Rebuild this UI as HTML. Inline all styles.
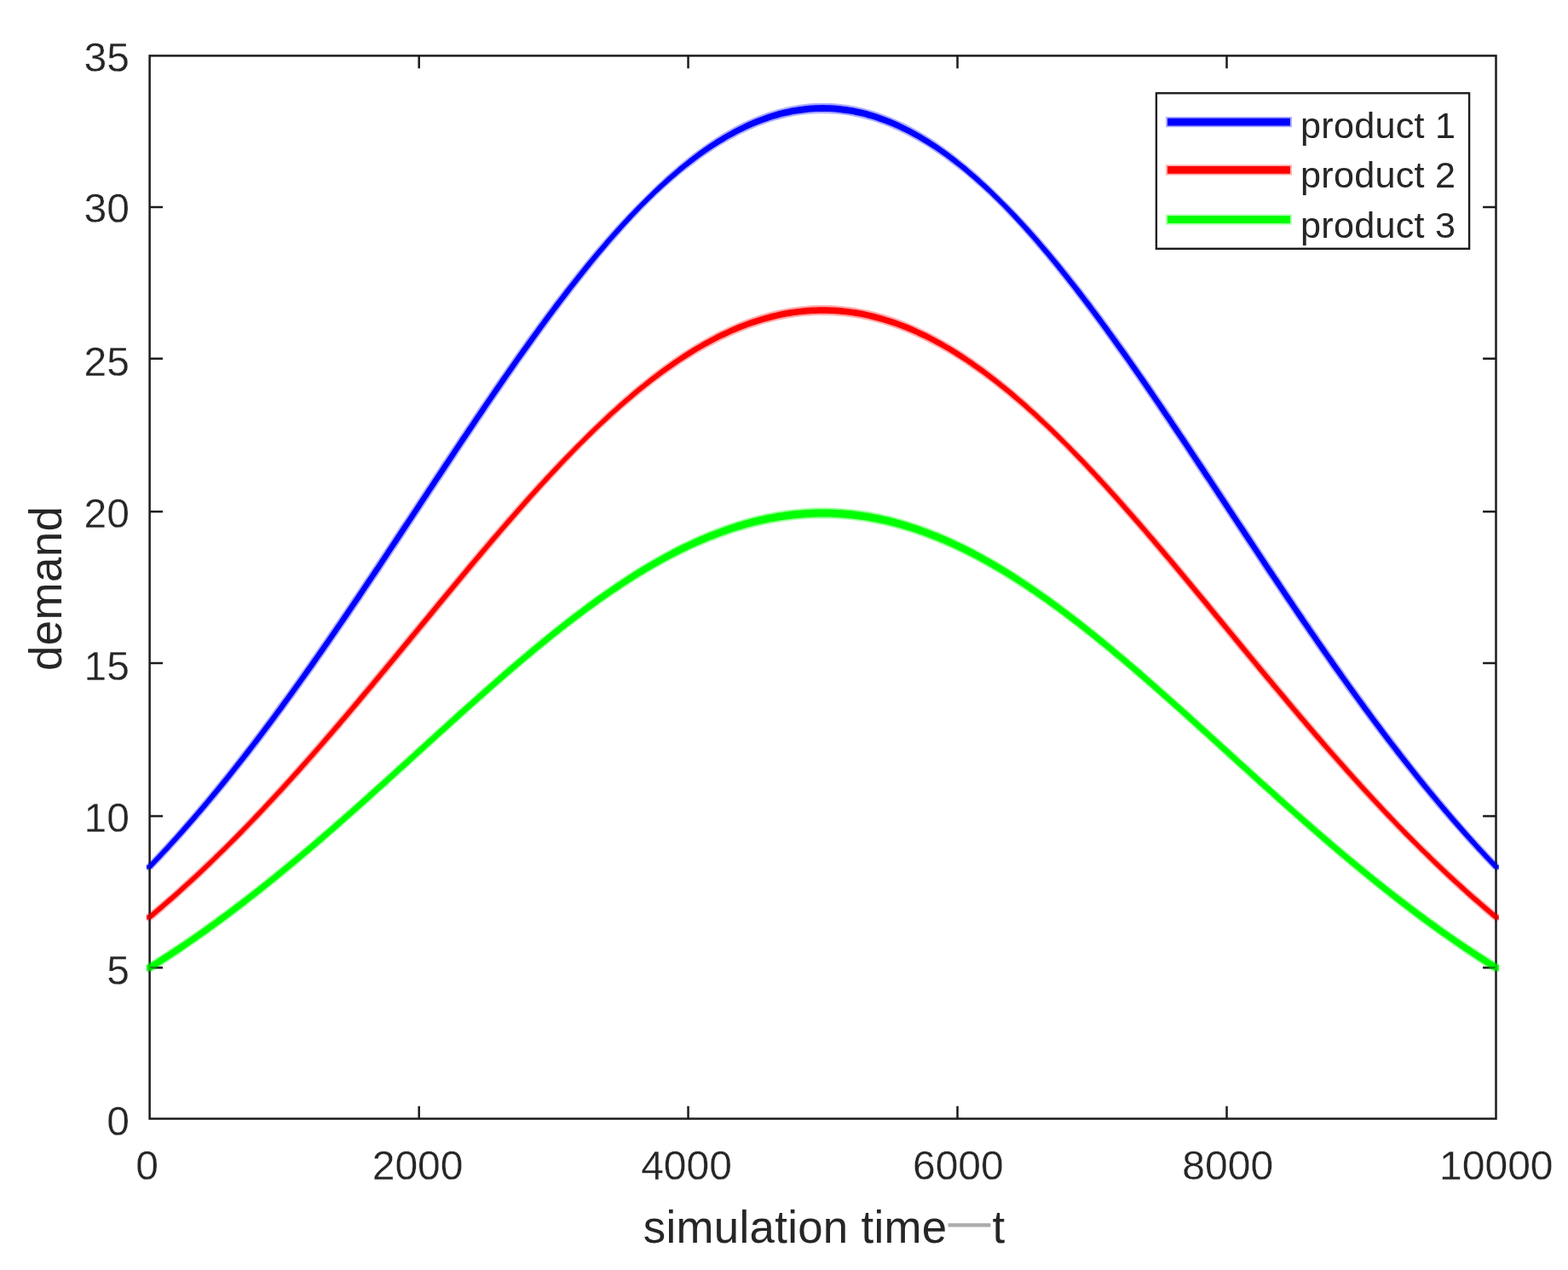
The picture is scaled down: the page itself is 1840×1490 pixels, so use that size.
<!DOCTYPE html>
<html lang="en"><head><meta charset="utf-8"><title>demand vs simulation time</title>
<style>
html,body{margin:0;padding:0;background:#fff;}
body{width:1840px;height:1490px;overflow:hidden;}
svg{display:block;}
text{font-family:"Liberation Sans",sans-serif;fill:#262626;stroke:#fff;stroke-width:0.3px;stroke-linejoin:round;}
.t{font-size:48px;}
.l{font-size:52.8px;stroke:none;}
.g{font-size:43.2px;letter-spacing:0.25px;stroke:none;}
.ax{stroke:#1c1c1c;stroke-width:2.5;fill:none;}
.c{fill:none;stroke-linejoin:round;stroke-linecap:butt;}
</style></head><body>
<svg width="1840" height="1490" viewBox="0 0 1840 1490">
<rect x="0" y="0" width="1840" height="1490" fill="#ffffff"/>
<g id="axes">
<rect class="ax" x="175.6" y="65.4" width="1579.9" height="1247.1"/>
<path class="ax" d="M491.70 1312.50v-14.80M491.70 65.40v14.80M807.56 1312.50v-14.80M807.56 65.40v14.80M1123.54 1312.50v-14.80M1123.54 65.40v14.80M1439.52 1312.50v-14.80M1439.52 65.40v14.80M175.60 1135.30h15.40M1755.50 1135.30h-15.40M175.60 957.60h15.40M1755.50 957.60h-15.40M175.60 777.90h15.40M1755.50 777.90h-15.40M175.60 600.30h15.40M1755.50 600.30h-15.40M175.60 420.70h15.40M1755.50 420.70h-15.40M175.60 243.10h15.40M1755.50 243.10h-15.40"/>
</g>
<clipPath id="cl"><rect x="172" y="0" width="1586.7" height="1490"/></clipPath>
<g id="curves" clip-path="url(#cl)">
<polygon points="161.6,1010.8 172.4,1013.9 176.4,1009.7 180.3,1005.6 184.2,1001.4 188.1,997.1 192.0,992.9 196.0,988.6 199.9,984.2 203.8,979.9 207.7,975.5 211.7,971.0 215.6,966.5 219.5,962.0 223.5,957.5 227.4,952.9 231.3,948.3 235.2,943.6 239.2,938.9 243.1,934.2 247.0,929.4 251.0,924.6 254.9,919.8 258.8,915.0 262.7,910.1 266.7,905.2 270.6,900.2 274.5,895.2 278.5,890.2 282.4,885.1 286.3,880.1 290.3,875.0 294.2,869.8 298.1,864.6 302.1,859.4 306.0,854.2 309.9,849.0 313.9,843.7 317.8,838.4 321.7,833.0 325.7,827.6 329.6,822.2 333.5,816.8 337.5,811.4 341.4,805.9 345.4,800.4 349.3,794.9 353.2,789.3 357.2,783.7 361.1,778.2 365.0,772.5 369.0,766.9 372.9,761.2 376.9,755.6 380.8,749.9 384.7,744.1 388.7,738.4 392.6,732.6 396.6,726.9 400.5,721.1 404.5,715.3 408.4,709.4 412.3,703.6 416.3,697.7 420.2,691.9 424.2,686.0 428.1,680.1 432.1,674.2 436.0,668.3 440.0,662.3 443.9,656.4 447.8,650.5 451.8,644.5 455.7,638.5 459.7,632.6 463.6,626.6 467.6,620.6 471.5,614.6 475.5,608.7 479.4,602.7 483.4,596.7 487.3,590.7 491.3,584.7 495.2,578.7 499.2,572.7 503.1,566.7 507.1,560.7 511.0,554.8 515.0,548.8 518.9,542.8 522.9,536.9 526.8,530.9 530.8,524.9 534.8,519.0 538.7,513.1 542.7,507.2 546.6,501.3 550.6,495.4 554.5,489.5 558.5,483.6 562.4,477.8 566.4,472.0 570.4,466.2 574.3,460.4 578.3,454.6 582.2,448.8 586.2,443.1 590.2,437.4 594.1,431.7 598.1,426.0 602.0,420.4 606.0,414.8 610.0,409.2 613.9,403.7 617.9,398.1 621.9,392.6 625.8,387.2 629.8,381.7 633.8,376.3 637.7,371.0 641.7,365.6 645.7,360.3 649.6,355.1 653.6,349.8 657.6,344.7 661.5,339.5 665.5,334.4 669.5,329.3 673.5,324.3 677.4,319.3 681.4,314.4 685.4,309.5 689.4,304.7 693.3,299.9 697.3,295.1 701.3,290.4 705.3,285.8 709.3,281.2 713.3,276.6 717.2,272.1 721.2,267.7 725.2,263.3 729.2,259.0 733.2,254.7 737.2,250.5 741.2,246.3 745.2,242.2 749.2,238.1 753.2,234.2 757.1,230.2 761.1,226.3 765.0,222.4 769.0,218.6 772.9,214.9 776.9,211.2 780.8,207.6 784.8,204.1 788.7,200.6 792.7,197.2 796.7,193.8 800.6,190.6 804.6,187.3 808.6,184.2 812.5,181.1 816.5,178.1 820.5,175.2 824.4,172.3 828.4,169.5 832.4,166.8 836.4,164.1 840.4,161.6 844.4,159.1 848.3,156.6 852.3,154.3 856.3,152.0 860.3,149.8 864.3,147.6 868.3,145.6 872.4,143.6 876.4,141.7 880.4,139.9 884.4,138.2 888.4,136.5 892.5,134.9 896.5,133.4 900.5,132.0 904.6,130.7 908.6,129.5 912.7,128.3 916.7,127.2 920.8,126.2 924.8,125.3 928.9,124.5 933.0,123.7 937.0,123.1 941.1,122.5 945.2,122.0 949.2,121.6 953.3,121.3 957.4,121.1 961.5,121.0 965.6,120.9 969.6,121.0 973.7,121.1 977.8,121.3 981.9,121.6 985.9,122.0 990.0,122.5 994.1,123.1 998.1,123.7 1002.2,124.5 1006.3,125.3 1010.3,126.2 1014.4,127.2 1018.4,128.3 1022.5,129.5 1026.5,130.7 1030.6,132.0 1034.6,133.4 1038.6,134.9 1042.7,136.5 1046.7,138.2 1050.7,139.9 1054.7,141.7 1058.7,143.6 1062.8,145.6 1066.8,147.6 1070.8,149.8 1074.8,152.0 1078.8,154.3 1082.8,156.6 1086.7,159.1 1090.7,161.6 1094.7,164.1 1098.7,166.8 1102.7,169.5 1106.7,172.3 1110.6,175.2 1114.6,178.1 1118.6,181.1 1122.5,184.2 1126.5,187.3 1130.5,190.6 1134.4,193.8 1138.4,197.2 1142.4,200.6 1146.3,204.1 1150.3,207.6 1154.2,211.2 1158.2,214.9 1162.1,218.6 1166.1,222.4 1170.0,226.3 1174.0,230.2 1177.9,234.2 1181.9,238.1 1185.9,242.2 1189.9,246.3 1193.9,250.5 1197.9,254.7 1201.9,259.0 1205.9,263.3 1209.9,267.7 1213.9,272.1 1217.8,276.6 1221.8,281.2 1225.8,285.8 1229.8,290.4 1233.8,295.1 1237.8,299.9 1241.7,304.7 1245.7,309.5 1249.7,314.4 1253.7,319.3 1257.6,324.3 1261.6,329.3 1265.6,334.4 1269.6,339.5 1273.5,344.7 1277.5,349.8 1281.5,355.1 1285.4,360.3 1289.4,365.6 1293.4,371.0 1297.3,376.3 1301.3,381.7 1305.3,387.2 1309.2,392.6 1313.2,398.1 1317.2,403.7 1321.1,409.2 1325.1,414.8 1329.1,420.4 1333.0,426.0 1337.0,431.7 1340.9,437.4 1344.9,443.1 1348.9,448.8 1352.8,454.6 1356.8,460.4 1360.7,466.2 1364.7,472.0 1368.7,477.8 1372.6,483.6 1376.6,489.5 1380.5,495.4 1384.5,501.3 1388.4,507.2 1392.4,513.1 1396.3,519.0 1400.3,524.9 1404.3,530.9 1408.2,536.9 1412.2,542.8 1416.1,548.8 1420.1,554.8 1424.0,560.7 1428.0,566.7 1431.9,572.7 1435.9,578.7 1439.8,584.7 1443.8,590.7 1447.7,596.7 1451.7,602.7 1455.6,608.7 1459.6,614.6 1463.5,620.6 1467.5,626.6 1471.4,632.6 1475.4,638.5 1479.3,644.5 1483.3,650.5 1487.2,656.4 1491.1,662.3 1495.1,668.3 1499.0,674.2 1503.0,680.1 1506.9,686.0 1510.9,691.9 1514.8,697.7 1518.8,703.6 1522.7,709.4 1526.6,715.3 1530.6,721.1 1534.5,726.9 1538.5,732.6 1542.4,738.4 1546.4,744.1 1550.3,749.9 1554.2,755.6 1558.2,761.2 1562.1,766.9 1566.1,772.5 1570.0,778.2 1573.9,783.7 1577.9,789.3 1581.8,794.9 1585.7,800.4 1589.7,805.9 1593.6,811.4 1597.6,816.8 1601.5,822.2 1605.4,827.6 1609.4,833.0 1613.3,838.4 1617.2,843.7 1621.2,849.0 1625.1,854.2 1629.0,859.4 1633.0,864.6 1636.9,869.8 1640.8,875.0 1644.8,880.1 1648.7,885.1 1652.6,890.2 1656.6,895.2 1660.5,900.2 1664.4,905.2 1668.4,910.1 1672.3,915.0 1676.2,919.8 1680.1,924.6 1684.1,929.4 1688.0,934.2 1691.9,938.9 1695.9,943.6 1699.8,948.3 1703.7,952.9 1707.6,957.5 1711.6,962.0 1715.5,966.5 1719.4,971.0 1723.4,975.5 1727.3,979.9 1731.2,984.2 1735.1,988.6 1739.1,992.9 1743.0,997.1 1746.9,1001.4 1750.8,1005.6 1754.7,1009.7 1758.7,1013.9 1769.5,1010.8 1769.5,1023.0 1752.3,1020.0 1748.4,1015.8 1744.4,1011.7 1740.4,1007.5 1736.4,1003.2 1732.5,999.0 1728.5,994.7 1724.5,990.3 1720.5,985.9 1716.6,981.5 1712.6,977.1 1708.6,972.6 1704.6,968.1 1700.7,963.5 1696.7,958.9 1692.7,954.3 1688.7,949.6 1684.8,944.9 1680.8,940.2 1676.8,935.4 1672.9,930.6 1668.9,925.8 1664.9,920.9 1661.0,916.0 1657.0,911.1 1653.0,906.1 1649.0,901.1 1645.1,896.1 1641.1,891.1 1637.1,886.0 1633.2,880.9 1629.2,875.7 1625.2,870.5 1621.3,865.3 1617.3,860.1 1613.3,854.8 1609.4,849.5 1605.4,844.2 1601.5,838.8 1597.5,833.5 1593.5,828.0 1589.6,822.6 1585.6,817.2 1581.6,811.7 1577.7,806.2 1573.7,800.6 1569.8,795.1 1565.8,789.5 1561.8,783.9 1557.9,778.3 1553.9,772.6 1550.0,767.0 1546.0,761.3 1542.0,755.6 1538.1,749.8 1534.1,744.1 1530.2,738.3 1526.2,732.5 1522.2,726.7 1518.3,720.9 1514.3,715.1 1510.4,709.2 1506.4,703.4 1502.5,697.5 1498.5,691.6 1494.6,685.7 1490.6,679.8 1486.6,673.9 1482.7,668.0 1478.7,662.0 1474.8,656.1 1470.8,650.1 1466.9,644.2 1462.9,638.2 1459.0,632.2 1455.0,626.2 1451.1,620.2 1447.1,614.3 1443.2,608.3 1439.2,602.3 1435.3,596.3 1431.3,590.3 1427.4,584.3 1423.4,578.3 1419.5,572.3 1415.5,566.3 1411.6,560.4 1407.6,554.4 1403.7,548.4 1399.7,542.5 1395.8,536.5 1391.8,530.6 1387.9,524.6 1384.0,518.7 1380.0,512.8 1376.1,506.9 1372.1,501.0 1368.2,495.2 1364.2,489.3 1360.3,483.5 1356.3,477.6 1352.4,471.8 1348.5,466.0 1344.5,460.3 1340.6,454.5 1336.6,448.8 1332.7,443.1 1328.8,437.4 1324.8,431.8 1320.9,426.1 1317.0,420.5 1313.0,415.0 1309.1,409.4 1305.2,403.9 1301.2,398.4 1297.3,393.0 1293.3,387.5 1289.4,382.2 1285.5,376.8 1281.6,371.5 1277.6,366.2 1273.7,360.9 1269.8,355.7 1265.8,350.6 1261.9,345.4 1258.0,340.3 1254.1,335.3 1250.1,330.3 1246.2,325.3 1242.3,320.4 1238.4,315.5 1234.4,310.7 1230.5,305.9 1226.6,301.1 1222.7,296.4 1218.8,291.8 1214.8,287.2 1210.9,282.7 1207.0,278.2 1203.1,273.8 1199.2,269.4 1195.3,265.0 1191.4,260.8 1187.5,256.6 1183.5,252.4 1179.6,248.3 1175.7,244.2 1171.8,240.3 1167.9,236.4 1163.9,232.6 1160.0,228.8 1156.0,225.1 1152.1,221.5 1148.2,217.9 1144.2,214.4 1140.3,211.0 1136.3,207.6 1132.4,204.3 1128.4,201.1 1124.5,198.0 1120.6,194.9 1116.6,191.9 1112.7,188.9 1108.8,186.0 1104.9,183.2 1100.9,180.5 1097.0,177.9 1093.1,175.3 1089.2,172.8 1085.3,170.3 1081.3,168.0 1077.4,165.7 1073.5,163.5 1069.6,161.4 1065.7,159.3 1061.8,157.3 1057.9,155.4 1054.0,153.6 1050.2,151.9 1046.3,150.2 1042.4,148.6 1038.5,147.1 1034.7,145.7 1030.8,144.3 1026.9,143.0 1023.1,141.8 1019.2,140.7 1015.4,139.7 1011.5,138.7 1007.7,137.8 1003.8,137.0 1000.0,136.3 996.2,135.6 992.3,135.0 988.5,134.5 984.7,134.1 980.8,133.8 977.0,133.5 973.2,133.3 969.4,133.2 965.6,133.1 961.7,133.2 957.9,133.3 954.1,133.5 950.3,133.8 946.4,134.1 942.6,134.5 938.8,135.0 934.9,135.6 931.1,136.3 927.3,137.0 923.4,137.8 919.6,138.7 915.7,139.7 911.9,140.7 908.0,141.8 904.2,143.0 900.3,144.3 896.4,145.7 892.6,147.1 888.7,148.6 884.8,150.2 880.9,151.9 877.1,153.6 873.2,155.4 869.3,157.3 865.4,159.3 861.5,161.4 857.6,163.5 853.7,165.7 849.8,168.0 845.8,170.3 841.9,172.8 838.0,175.3 834.1,177.9 830.2,180.5 826.2,183.2 822.3,186.0 818.4,188.9 814.5,191.9 810.5,194.9 806.6,198.0 802.7,201.1 798.7,204.3 794.8,207.6 790.8,211.0 786.9,214.4 782.9,217.9 779.0,221.5 775.1,225.1 771.1,228.8 767.2,232.6 763.2,236.4 759.3,240.3 755.4,244.2 751.5,248.3 747.6,252.4 743.6,256.6 739.7,260.8 735.8,265.0 731.9,269.4 728.0,273.8 724.1,278.2 720.2,282.7 716.3,287.2 712.3,291.8 708.4,296.4 704.5,301.1 700.6,305.9 696.7,310.7 692.7,315.5 688.8,320.4 684.9,325.3 681.0,330.3 677.0,335.3 673.1,340.3 669.2,345.4 665.3,350.6 661.3,355.7 657.4,360.9 653.5,366.2 649.5,371.5 645.6,376.8 641.7,382.2 637.8,387.5 633.8,393.0 629.9,398.4 625.9,403.9 622.0,409.4 618.1,415.0 614.1,420.5 610.2,426.1 606.3,431.8 602.3,437.4 598.4,443.1 594.5,448.8 590.5,454.5 586.6,460.3 582.6,466.0 578.7,471.8 574.8,477.6 570.8,483.5 566.9,489.3 562.9,495.2 559.0,501.0 555.0,506.9 551.1,512.8 547.1,518.7 543.2,524.6 539.3,530.6 535.3,536.5 531.4,542.5 527.4,548.4 523.5,554.4 519.5,560.4 515.6,566.3 511.6,572.3 507.7,578.3 503.7,584.3 499.8,590.3 495.8,596.3 491.9,602.3 487.9,608.3 484.0,614.3 480.0,620.2 476.1,626.2 472.1,632.2 468.2,638.2 464.2,644.2 460.3,650.1 456.3,656.1 452.4,662.0 448.4,668.0 444.5,673.9 440.5,679.8 436.5,685.7 432.6,691.6 428.6,697.5 424.7,703.4 420.7,709.2 416.8,715.1 412.8,720.9 408.9,726.7 404.9,732.5 400.9,738.3 397.0,744.1 393.0,749.8 389.1,755.6 385.1,761.3 381.1,767.0 377.2,772.6 373.2,778.3 369.3,783.9 365.3,789.5 361.3,795.1 357.4,800.6 353.4,806.2 349.5,811.7 345.5,817.2 341.5,822.6 337.6,828.0 333.6,833.5 329.6,838.8 325.7,844.2 321.7,849.5 317.8,854.8 313.8,860.1 309.8,865.3 305.9,870.5 301.9,875.7 297.9,880.9 294.0,886.0 290.0,891.1 286.0,896.1 282.1,901.1 278.1,906.1 274.1,911.1 270.1,916.0 266.2,920.9 262.2,925.8 258.2,930.6 254.3,935.4 250.3,940.2 246.3,944.9 242.4,949.6 238.4,954.3 234.4,958.9 230.4,963.5 226.5,968.1 222.5,972.6 218.5,977.1 214.5,981.5 210.6,985.9 206.6,990.3 202.6,994.7 198.6,999.0 194.7,1003.2 190.7,1007.5 186.7,1011.7 182.7,1015.8 178.8,1020.0 161.6,1023.0" fill="#0000ff" fill-opacity="0.33"/>
<polygon id="c1" points="161.6,1013.0 173.6,1015.0 177.5,1010.8 181.4,1006.7 185.4,1002.5 189.3,998.2 193.2,994.0 197.2,989.7 201.1,985.3 205.0,981.0 209.0,976.5 212.9,972.1 216.8,967.6 220.8,963.1 224.7,958.6 228.6,954.0 232.6,949.3 236.5,944.7 240.5,940.0 244.4,935.3 248.3,930.5 252.3,925.7 256.2,920.9 260.1,916.0 264.1,911.2 268.0,906.2 272.0,901.3 275.9,896.3 279.8,891.3 283.8,886.2 287.7,881.1 291.6,876.0 295.6,870.9 299.5,865.7 303.5,860.5 307.4,855.3 311.3,850.0 315.3,844.7 319.2,839.4 323.2,834.1 327.1,828.7 331.0,823.3 335.0,817.9 338.9,812.4 342.9,806.9 346.8,801.4 350.8,795.9 354.7,790.4 358.6,784.8 362.6,779.2 366.5,773.6 370.5,767.9 374.4,762.3 378.4,756.6 382.3,750.9 386.2,745.2 390.2,739.4 394.1,733.7 398.1,727.9 402.0,722.1 406.0,716.3 409.9,710.5 413.9,704.6 417.8,698.8 421.7,692.9 425.7,687.0 429.6,681.1 433.6,675.2 437.5,669.3 441.5,663.4 445.4,657.4 449.4,651.5 453.3,645.5 457.3,639.6 461.2,633.6 465.2,627.6 469.1,621.6 473.1,615.6 477.0,609.7 481.0,603.7 484.9,597.7 488.9,591.7 492.8,585.7 496.8,579.7 500.7,573.7 504.7,567.7 508.6,561.7 512.6,555.8 516.5,549.8 520.5,543.8 524.4,537.9 528.4,531.9 532.3,526.0 536.3,520.0 540.2,514.1 544.2,508.2 548.1,502.3 552.1,496.4 556.0,490.5 560.0,484.7 564.0,478.8 567.9,473.0 571.9,467.2 575.8,461.4 579.8,455.6 583.7,449.9 587.7,444.1 591.6,438.4 595.6,432.7 599.6,427.1 603.5,421.4 607.5,415.8 611.4,410.2 615.4,404.7 619.3,399.2 623.3,393.7 627.3,388.2 631.2,382.8 635.2,377.4 639.1,372.0 643.1,366.7 647.1,361.4 651.0,356.1 655.0,350.9 659.0,345.7 662.9,340.6 666.9,335.5 670.9,330.4 674.8,325.4 678.8,320.4 682.8,315.5 686.7,310.6 690.7,305.8 694.7,301.0 698.6,296.2 702.6,291.5 706.6,286.9 710.5,282.3 714.5,277.7 718.5,273.2 722.4,268.8 726.4,264.4 730.4,260.1 734.4,255.8 738.3,251.6 742.3,247.4 746.3,243.3 750.3,239.2 754.3,235.3 758.2,231.3 762.2,227.4 766.1,223.6 770.1,219.8 774.0,216.1 778.0,212.4 781.9,208.8 785.9,205.3 789.8,201.9 793.8,198.5 797.7,195.1 801.7,191.9 805.7,188.7 809.6,185.6 813.6,182.5 817.5,179.5 821.5,176.6 825.5,173.8 829.4,171.0 833.4,168.3 837.4,165.7 841.4,163.1 845.3,160.7 849.3,158.3 853.3,155.9 857.3,153.7 861.2,151.5 865.2,149.4 869.2,147.4 873.2,145.4 877.2,143.6 881.2,141.8 885.2,140.1 889.2,138.4 893.2,136.9 897.2,135.4 901.2,134.0 905.2,132.7 909.2,131.5 913.2,130.3 917.2,129.3 921.3,128.3 925.3,127.4 929.3,126.6 933.3,125.9 937.3,125.2 941.4,124.7 945.4,124.2 949.4,123.8 953.5,123.5 957.5,123.3 961.5,123.2 965.6,123.1 969.6,123.2 973.6,123.3 977.6,123.5 981.7,123.8 985.7,124.2 989.7,124.7 993.8,125.2 997.8,125.9 1001.8,126.6 1005.8,127.4 1009.8,128.3 1013.9,129.3 1017.9,130.3 1021.9,131.5 1025.9,132.7 1029.9,134.0 1033.9,135.4 1037.9,136.9 1041.9,138.4 1045.9,140.1 1049.9,141.8 1053.9,143.6 1057.9,145.4 1061.9,147.4 1065.9,149.4 1069.9,151.5 1073.8,153.7 1077.8,155.9 1081.8,158.3 1085.8,160.7 1089.7,163.1 1093.7,165.7 1097.7,168.3 1101.7,171.0 1105.6,173.8 1109.6,176.6 1113.6,179.5 1117.5,182.5 1121.5,185.6 1125.4,188.7 1129.4,191.9 1133.4,195.1 1137.3,198.5 1141.3,201.9 1145.2,205.3 1149.2,208.8 1153.1,212.4 1157.1,216.1 1161.0,219.8 1165.0,223.6 1168.9,227.4 1172.9,231.3 1176.8,235.3 1180.8,239.2 1184.8,243.3 1188.8,247.4 1192.8,251.6 1196.7,255.8 1200.7,260.1 1204.7,264.4 1208.7,268.8 1212.6,273.2 1216.6,277.7 1220.6,282.3 1224.5,286.9 1228.5,291.5 1232.5,296.2 1236.4,301.0 1240.4,305.8 1244.4,310.6 1248.3,315.5 1252.3,320.4 1256.3,325.4 1260.2,330.4 1264.2,335.5 1268.2,340.6 1272.1,345.7 1276.1,350.9 1280.1,356.1 1284.0,361.4 1288.0,366.7 1292.0,372.0 1295.9,377.4 1299.9,382.8 1303.8,388.2 1307.8,393.7 1311.8,399.2 1315.7,404.7 1319.7,410.2 1323.6,415.8 1327.6,421.4 1331.5,427.1 1335.5,432.7 1339.5,438.4 1343.4,444.1 1347.4,449.9 1351.3,455.6 1355.3,461.4 1359.2,467.2 1363.2,473.0 1367.1,478.8 1371.1,484.7 1375.1,490.5 1379.0,496.4 1383.0,502.3 1386.9,508.2 1390.9,514.1 1394.8,520.0 1398.8,526.0 1402.7,531.9 1406.7,537.9 1410.6,543.8 1414.6,549.8 1418.5,555.8 1422.5,561.7 1426.4,567.7 1430.4,573.7 1434.3,579.7 1438.3,585.7 1442.2,591.7 1446.2,597.7 1450.1,603.7 1454.1,609.7 1458.0,615.6 1462.0,621.6 1465.9,627.6 1469.9,633.6 1473.8,639.6 1477.8,645.5 1481.7,651.5 1485.7,657.4 1489.6,663.4 1493.6,669.3 1497.5,675.2 1501.5,681.1 1505.4,687.0 1509.4,692.9 1513.3,698.8 1517.2,704.6 1521.2,710.5 1525.1,716.3 1529.1,722.1 1533.0,727.9 1537.0,733.7 1540.9,739.4 1544.9,745.2 1548.8,750.9 1552.7,756.6 1556.7,762.3 1560.6,767.9 1564.6,773.6 1568.5,779.2 1572.5,784.8 1576.4,790.4 1580.3,795.9 1584.3,801.4 1588.2,806.9 1592.2,812.4 1596.1,817.9 1600.1,823.3 1604.0,828.7 1607.9,834.1 1611.9,839.4 1615.8,844.7 1619.8,850.0 1623.7,855.3 1627.6,860.5 1631.6,865.7 1635.5,870.9 1639.5,876.0 1643.4,881.1 1647.3,886.2 1651.3,891.3 1655.2,896.3 1659.1,901.3 1663.1,906.2 1667.0,911.2 1671.0,916.0 1674.9,920.9 1678.8,925.7 1682.8,930.5 1686.7,935.3 1690.6,940.0 1694.6,944.7 1698.5,949.3 1702.5,954.0 1706.4,958.6 1710.3,963.1 1714.3,967.6 1718.2,972.1 1722.1,976.5 1726.1,981.0 1730.0,985.3 1733.9,989.7 1737.9,994.0 1741.8,998.2 1745.7,1002.5 1749.7,1006.7 1753.6,1010.8 1757.5,1015.0 1769.5,1013.0 1769.5,1020.8 1753.5,1018.9 1749.5,1014.7 1745.5,1010.6 1741.6,1006.4 1737.6,1002.1 1733.6,997.9 1729.7,993.6 1725.7,989.2 1721.7,984.8 1717.8,980.4 1713.8,976.0 1709.8,971.5 1705.9,967.0 1701.9,962.4 1698.0,957.8 1694.0,953.2 1690.0,948.5 1686.1,943.8 1682.1,939.1 1678.1,934.3 1674.2,929.6 1670.2,924.7 1666.3,919.9 1662.3,915.0 1658.3,910.0 1654.4,905.1 1650.4,900.1 1646.4,895.1 1642.5,890.0 1638.5,884.9 1634.6,879.8 1630.6,874.6 1626.6,869.5 1622.7,864.3 1618.7,859.0 1614.8,853.8 1610.8,848.5 1606.8,843.1 1602.9,837.8 1598.9,832.4 1595.0,827.0 1591.0,821.6 1587.0,816.1 1583.1,810.6 1579.1,805.1 1575.2,799.6 1571.2,794.0 1567.3,788.5 1563.3,782.9 1559.3,777.2 1555.4,771.6 1551.4,765.9 1547.5,760.2 1543.5,754.5 1539.6,748.8 1535.6,743.1 1531.7,737.3 1527.7,731.5 1523.7,725.7 1519.8,719.9 1515.8,714.1 1511.9,708.2 1507.9,702.4 1504.0,696.5 1500.0,690.6 1496.1,684.7 1492.1,678.8 1488.2,672.9 1484.2,667.0 1480.3,661.0 1476.3,655.1 1472.4,649.1 1468.4,643.1 1464.5,637.2 1460.5,631.2 1456.6,625.2 1452.6,619.2 1448.7,613.2 1444.7,607.3 1440.8,601.3 1436.8,595.3 1432.9,589.3 1428.9,583.3 1425.0,577.3 1421.0,571.3 1417.1,565.3 1413.1,559.4 1409.2,553.4 1405.2,547.4 1401.3,541.5 1397.3,535.5 1393.4,529.6 1389.4,523.6 1385.5,517.7 1381.5,511.8 1377.6,505.9 1373.6,500.0 1369.7,494.1 1365.7,488.3 1361.8,482.4 1357.9,476.6 1353.9,470.8 1350.0,465.0 1346.0,459.2 1342.1,453.5 1338.1,447.8 1334.2,442.1 1330.3,436.4 1326.3,430.7 1322.4,425.1 1318.4,419.5 1314.5,413.9 1310.5,408.4 1306.6,402.9 1302.7,397.4 1298.7,391.9 1294.8,386.5 1290.8,381.1 1286.9,375.7 1283.0,370.4 1279.0,365.1 1275.1,359.9 1271.2,354.7 1267.2,349.5 1263.3,344.4 1259.4,339.3 1255.4,334.2 1251.5,329.2 1247.5,324.2 1243.6,319.3 1239.7,314.4 1235.8,309.6 1231.8,304.8 1227.9,300.1 1224.0,295.4 1220.0,290.7 1216.1,286.1 1212.2,281.6 1208.2,277.1 1204.3,272.7 1200.4,268.3 1196.5,263.9 1192.5,259.7 1188.6,255.5 1184.7,251.3 1180.8,247.2 1176.9,243.1 1172.9,239.2 1169.0,235.3 1165.0,231.4 1161.1,227.6 1157.1,223.9 1153.2,220.3 1149.2,216.7 1145.3,213.2 1141.4,209.7 1137.4,206.4 1133.5,203.0 1129.5,199.8 1125.6,196.6 1121.6,193.5 1117.7,190.5 1113.8,187.5 1109.8,184.6 1105.9,181.8 1102.0,179.0 1098.0,176.3 1094.1,173.7 1090.2,171.2 1086.2,168.8 1082.3,166.4 1078.4,164.1 1074.5,161.8 1070.5,159.7 1066.6,157.6 1062.7,155.6 1058.8,153.7 1054.9,151.8 1051.0,150.0 1047.1,148.3 1043.2,146.7 1039.3,145.2 1035.4,143.7 1031.5,142.4 1027.6,141.0 1023.7,139.8 1019.8,138.7 1015.9,137.6 1012.0,136.6 1008.2,135.7 1004.3,134.9 1000.4,134.1 996.5,133.5 992.6,132.9 988.8,132.4 984.9,131.9 981.0,131.6 977.2,131.3 973.3,131.1 969.4,131.0 965.6,130.9 961.7,131.0 957.8,131.1 953.9,131.3 950.1,131.6 946.2,131.9 942.3,132.4 938.5,132.9 934.6,133.5 930.7,134.1 926.8,134.9 922.9,135.7 919.1,136.6 915.2,137.6 911.3,138.7 907.4,139.8 903.5,141.0 899.6,142.4 895.7,143.7 891.8,145.2 887.9,146.7 884.0,148.3 880.1,150.0 876.2,151.8 872.3,153.7 868.4,155.6 864.5,157.6 860.6,159.7 856.6,161.8 852.7,164.1 848.8,166.4 844.9,168.8 840.9,171.2 837.0,173.7 833.1,176.3 829.1,179.0 825.2,181.8 821.3,184.6 817.3,187.5 813.4,190.5 809.5,193.5 805.5,196.6 801.6,199.8 797.6,203.0 793.7,206.4 789.7,209.7 785.8,213.2 781.9,216.7 777.9,220.3 774.0,223.9 770.0,227.6 766.1,231.4 762.1,235.3 758.2,239.2 754.2,243.1 750.3,247.2 746.4,251.3 742.5,255.5 738.6,259.7 734.6,263.9 730.7,268.3 726.8,272.7 722.9,277.1 718.9,281.6 715.0,286.1 711.1,290.7 707.1,295.4 703.2,300.1 699.3,304.8 695.3,309.6 691.4,314.4 687.5,319.3 683.6,324.2 679.6,329.2 675.7,334.2 671.7,339.3 667.8,344.4 663.9,349.5 659.9,354.7 656.0,359.9 652.1,365.1 648.1,370.4 644.2,375.7 640.3,381.1 636.3,386.5 632.4,391.9 628.4,397.4 624.5,402.9 620.6,408.4 616.6,413.9 612.7,419.5 608.7,425.1 604.8,430.7 600.8,436.4 596.9,442.1 593.0,447.8 589.0,453.5 585.1,459.2 581.1,465.0 577.2,470.8 573.2,476.6 569.3,482.4 565.4,488.3 561.4,494.1 557.5,500.0 553.5,505.9 549.6,511.8 545.6,517.7 541.7,523.6 537.7,529.6 533.8,535.5 529.8,541.5 525.9,547.4 521.9,553.4 518.0,559.4 514.0,565.3 510.1,571.3 506.1,577.3 502.2,583.3 498.2,589.3 494.3,595.3 490.3,601.3 486.4,607.3 482.4,613.2 478.5,619.2 474.5,625.2 470.6,631.2 466.6,637.2 462.7,643.1 458.7,649.1 454.8,655.1 450.8,661.0 446.9,667.0 442.9,672.9 439.0,678.8 435.0,684.7 431.1,690.6 427.1,696.5 423.2,702.4 419.2,708.2 415.3,714.1 411.3,719.9 407.4,725.7 403.4,731.5 399.4,737.3 395.5,743.1 391.5,748.8 387.6,754.5 383.6,760.2 379.7,765.9 375.7,771.6 371.8,777.2 367.8,782.9 363.8,788.5 359.9,794.0 355.9,799.6 352.0,805.1 348.0,810.6 344.1,816.1 340.1,821.6 336.1,827.0 332.2,832.4 328.2,837.8 324.3,843.1 320.3,848.5 316.3,853.8 312.4,859.0 308.4,864.3 304.5,869.5 300.5,874.6 296.5,879.8 292.6,884.9 288.6,890.0 284.7,895.1 280.7,900.1 276.7,905.1 272.8,910.0 268.8,915.0 264.8,919.9 260.9,924.7 256.9,929.6 253.0,934.3 249.0,939.1 245.0,943.8 241.1,948.5 237.1,953.2 233.1,957.8 229.2,962.4 225.2,967.0 221.3,971.5 217.3,976.0 213.3,980.4 209.4,984.8 205.4,989.2 201.4,993.6 197.5,997.9 193.5,1002.1 189.5,1006.4 185.6,1010.6 181.6,1014.7 177.6,1018.9 161.6,1020.8" fill="#0000ff"/>
<polygon points="161.6,1070.0 172.7,1072.4 176.6,1069.2 180.5,1065.9 184.5,1062.5 188.4,1059.2 192.4,1055.8 196.3,1052.4 200.3,1048.9 204.2,1045.4 208.2,1041.9 212.1,1038.4 216.1,1034.8 220.0,1031.2 224.0,1027.6 227.9,1024.0 231.9,1020.3 235.8,1016.6 239.7,1012.8 243.7,1009.1 247.6,1005.3 251.6,1001.5 255.5,997.6 259.5,993.8 263.4,989.9 267.4,986.0 271.3,982.0 275.3,978.0 279.2,974.0 283.1,969.9 287.0,965.9 291.0,961.8 294.9,957.7 298.8,953.5 302.8,949.4 306.7,945.2 310.6,941.0 314.6,936.7 318.5,932.5 322.4,928.2 326.4,923.9 330.3,919.6 334.2,915.2 338.2,910.9 342.1,906.5 346.1,902.1 350.0,897.7 353.9,893.2 357.9,888.8 361.8,884.3 365.7,879.8 369.7,875.3 373.6,870.7 377.6,866.2 381.5,861.6 385.4,857.0 389.4,852.5 393.3,847.8 397.3,843.2 401.2,838.6 405.1,833.9 409.1,829.3 413.0,824.6 417.0,819.9 420.9,815.2 424.9,810.5 428.8,805.8 432.7,801.1 436.7,796.3 440.6,791.6 444.6,786.8 448.5,782.1 452.5,777.3 456.4,772.6 460.4,767.8 464.3,763.0 468.3,758.2 472.2,753.4 476.2,748.6 480.1,743.8 484.1,739.0 488.0,734.3 492.0,729.5 495.9,724.7 499.9,719.9 503.8,715.1 507.8,710.3 511.7,705.5 515.7,700.7 519.6,696.0 523.6,691.2 527.5,686.4 531.5,681.7 535.4,676.9 539.4,672.2 543.3,667.4 547.3,662.7 551.3,658.0 555.2,653.3 559.2,648.6 563.1,643.9 567.1,639.3 571.0,634.6 575.0,630.0 579.0,625.4 582.9,620.8 586.9,616.2 590.8,611.6 594.8,607.1 598.8,602.5 602.7,598.0 606.7,593.6 610.7,589.1 614.6,584.6 618.6,580.2 622.6,575.8 626.5,571.5 630.5,567.1 634.5,562.8 638.4,558.5 642.4,554.2 646.4,550.0 650.3,545.8 654.3,541.6 658.3,537.5 662.3,533.4 666.2,529.3 670.2,525.2 674.2,521.2 678.2,517.2 682.1,513.3 686.1,509.3 690.0,505.4 694.0,501.6 697.9,497.8 701.9,494.0 705.8,490.2 709.8,486.5 713.7,482.8 717.7,479.2 721.6,475.6 725.6,472.1 729.5,468.6 733.5,465.1 737.5,461.7 741.4,458.3 745.4,455.0 749.3,451.7 753.3,448.5 757.2,445.3 761.2,442.2 765.2,439.1 769.1,436.0 773.1,433.0 777.1,430.1 781.0,427.2 785.0,424.4 789.0,421.6 792.9,418.8 796.9,416.2 800.9,413.5 804.9,411.0 808.8,408.4 812.8,406.0 816.8,403.6 820.8,401.2 824.8,398.9 828.7,396.7 832.7,394.5 836.7,392.4 840.7,390.3 844.7,388.3 848.7,386.4 852.7,384.5 856.7,382.7 860.7,380.9 864.7,379.2 868.7,377.6 872.7,376.0 876.7,374.5 880.8,373.0 884.8,371.7 888.8,370.3 892.8,369.1 896.8,367.9 900.9,366.8 904.9,365.7 908.9,364.7 913.0,363.8 917.0,363.0 921.0,362.2 925.1,361.4 929.1,360.8 933.2,360.2 937.2,359.7 941.3,359.2 945.3,358.9 949.4,358.5 953.4,358.3 957.5,358.1 961.5,358.0 965.6,358.0 969.6,358.0 973.6,358.1 977.7,358.3 981.7,358.5 985.8,358.9 989.8,359.2 993.9,359.7 997.9,360.2 1002.0,360.8 1006.0,361.4 1010.1,362.2 1014.1,363.0 1018.1,363.8 1022.2,364.7 1026.2,365.7 1030.2,366.8 1034.3,367.9 1038.3,369.1 1042.3,370.3 1046.3,371.7 1050.3,373.0 1054.4,374.5 1058.4,376.0 1062.4,377.6 1066.4,379.2 1070.4,380.9 1074.4,382.7 1078.4,384.5 1082.4,386.4 1086.4,388.3 1090.4,390.3 1094.4,392.4 1098.4,394.5 1102.4,396.7 1106.3,398.9 1110.3,401.2 1114.3,403.6 1118.3,406.0 1122.3,408.4 1126.2,411.0 1130.2,413.5 1134.2,416.2 1138.2,418.8 1142.1,421.6 1146.1,424.4 1150.1,427.2 1154.0,430.1 1158.0,433.0 1162.0,436.0 1165.9,439.1 1169.9,442.2 1173.9,445.3 1177.8,448.5 1181.8,451.7 1185.7,455.0 1189.7,458.3 1193.6,461.7 1197.6,465.1 1201.6,468.6 1205.5,472.1 1209.5,475.6 1213.4,479.2 1217.4,482.8 1221.3,486.5 1225.3,490.2 1229.2,494.0 1233.2,497.8 1237.1,501.6 1241.1,505.4 1245.0,509.3 1249.0,513.3 1252.9,517.2 1256.9,521.2 1260.9,525.2 1264.9,529.3 1268.8,533.4 1272.8,537.5 1276.8,541.6 1280.8,545.8 1284.7,550.0 1288.7,554.2 1292.7,558.5 1296.6,562.8 1300.6,567.1 1304.6,571.5 1308.5,575.8 1312.5,580.2 1316.5,584.6 1320.4,589.1 1324.4,593.6 1328.4,598.0 1332.3,602.5 1336.3,607.1 1340.3,611.6 1344.2,616.2 1348.2,620.8 1352.1,625.4 1356.1,630.0 1360.1,634.6 1364.0,639.3 1368.0,643.9 1371.9,648.6 1375.9,653.3 1379.8,658.0 1383.8,662.7 1387.8,667.4 1391.7,672.2 1395.7,676.9 1399.6,681.7 1403.6,686.4 1407.5,691.2 1411.5,696.0 1415.4,700.7 1419.4,705.5 1423.3,710.3 1427.3,715.1 1431.2,719.9 1435.2,724.7 1439.1,729.5 1443.1,734.3 1447.0,739.0 1451.0,743.8 1454.9,748.6 1458.9,753.4 1462.8,758.2 1466.8,763.0 1470.7,767.8 1474.7,772.6 1478.6,777.3 1482.6,782.1 1486.5,786.8 1490.5,791.6 1494.4,796.3 1498.4,801.1 1502.3,805.8 1506.2,810.5 1510.2,815.2 1514.1,819.9 1518.1,824.6 1522.0,829.3 1526.0,833.9 1529.9,838.6 1533.8,843.2 1537.8,847.8 1541.7,852.5 1545.7,857.0 1549.6,861.6 1553.5,866.2 1557.5,870.7 1561.4,875.3 1565.4,879.8 1569.3,884.3 1573.2,888.8 1577.2,893.2 1581.1,897.7 1585.0,902.1 1589.0,906.5 1592.9,910.9 1596.9,915.2 1600.8,919.6 1604.7,923.9 1608.7,928.2 1612.6,932.5 1616.5,936.7 1620.5,941.0 1624.4,945.2 1628.3,949.4 1632.3,953.5 1636.2,957.7 1640.1,961.8 1644.1,965.9 1648.0,969.9 1651.9,974.0 1655.8,978.0 1659.8,982.0 1663.7,986.0 1667.7,989.9 1671.6,993.8 1675.6,997.6 1679.5,1001.5 1683.5,1005.3 1687.4,1009.1 1691.4,1012.8 1695.3,1016.6 1699.2,1020.3 1703.2,1024.0 1707.1,1027.6 1711.1,1031.2 1715.0,1034.8 1719.0,1038.4 1722.9,1041.9 1726.9,1045.4 1730.8,1048.9 1734.8,1052.4 1738.7,1055.8 1742.7,1059.2 1746.6,1062.5 1750.6,1065.9 1754.5,1069.2 1758.4,1072.4 1769.5,1070.0 1769.5,1082.0 1752.6,1079.5 1748.6,1076.2 1744.6,1072.9 1740.7,1069.5 1736.7,1066.1 1732.8,1062.6 1728.8,1059.2 1724.9,1055.7 1720.9,1052.1 1717.0,1048.6 1713.0,1045.0 1709.1,1041.4 1705.1,1037.7 1701.2,1034.1 1697.2,1030.4 1693.3,1026.7 1689.3,1022.9 1685.4,1019.1 1681.4,1015.3 1677.5,1011.5 1673.5,1007.6 1669.6,1003.8 1665.6,999.8 1661.7,995.9 1657.7,992.0 1653.7,988.0 1649.8,984.0 1645.8,980.0 1641.8,975.9 1637.9,971.9 1633.9,967.8 1629.9,963.7 1626.0,959.5 1622.0,955.3 1618.0,951.2 1614.1,946.9 1610.1,942.7 1606.1,938.4 1602.2,934.2 1598.2,929.9 1594.2,925.5 1590.3,921.2 1586.3,916.8 1582.3,912.4 1578.4,908.0 1574.4,903.6 1570.5,899.2 1566.5,894.7 1562.5,890.2 1558.6,885.7 1554.6,881.2 1550.6,876.7 1546.7,872.1 1542.7,867.6 1538.8,863.0 1534.8,858.4 1530.8,853.8 1526.9,849.1 1522.9,844.5 1519.0,839.9 1515.0,835.2 1511.1,830.5 1507.1,825.8 1503.1,821.1 1499.2,816.4 1495.2,811.7 1491.3,807.0 1487.3,802.2 1483.4,797.5 1479.4,792.7 1475.5,788.0 1471.5,783.2 1467.6,778.4 1463.6,773.7 1459.7,768.9 1455.7,764.1 1451.7,759.3 1447.8,754.5 1443.8,749.7 1439.9,744.9 1435.9,740.1 1432.0,735.4 1428.0,730.6 1424.1,725.8 1420.2,721.0 1416.2,716.2 1412.3,711.4 1408.3,706.6 1404.4,701.9 1400.4,697.1 1396.5,692.3 1392.5,687.6 1388.6,682.8 1384.6,678.1 1380.7,673.3 1376.7,668.6 1372.8,663.9 1368.9,659.2 1364.9,654.5 1361.0,649.9 1357.0,645.2 1353.1,640.6 1349.2,635.9 1345.2,631.3 1341.3,626.7 1337.3,622.1 1333.4,617.6 1329.5,613.0 1325.5,608.5 1321.6,604.0 1317.7,599.5 1313.7,595.0 1309.8,590.6 1305.9,586.2 1301.9,581.8 1298.0,577.4 1294.1,573.1 1290.1,568.8 1286.2,564.5 1282.3,560.2 1278.3,556.0 1274.4,551.8 1270.5,547.6 1266.5,543.5 1262.6,539.4 1258.7,535.3 1254.8,531.2 1250.8,527.2 1246.9,523.2 1243.0,519.3 1239.0,515.4 1235.1,511.6 1231.1,507.8 1227.2,504.0 1223.2,500.3 1219.3,496.6 1215.3,493.0 1211.4,489.4 1207.4,485.8 1203.5,482.3 1199.6,478.8 1195.6,475.4 1191.7,472.0 1187.7,468.7 1183.8,465.4 1179.8,462.1 1175.9,458.9 1172.0,455.8 1168.0,452.7 1164.1,449.6 1160.1,446.6 1156.2,443.7 1152.3,440.8 1148.3,438.0 1144.4,435.2 1140.5,432.4 1136.5,429.7 1132.6,427.1 1128.7,424.5 1124.8,422.0 1120.8,419.5 1116.9,417.1 1113.0,414.8 1109.1,412.5 1105.2,410.2 1101.2,408.1 1097.3,405.9 1093.4,403.9 1089.5,401.9 1085.6,399.9 1081.7,398.0 1077.8,396.2 1073.9,394.4 1070.0,392.7 1066.1,391.1 1062.2,389.5 1058.3,388.0 1054.4,386.5 1050.5,385.1 1046.6,383.8 1042.8,382.5 1038.9,381.3 1035.0,380.1 1031.1,379.0 1027.3,378.0 1023.4,377.0 1019.5,376.1 1015.7,375.3 1011.8,374.5 1007.9,373.8 1004.1,373.1 1000.2,372.5 996.4,372.0 992.5,371.5 988.7,371.1 984.8,370.8 981.0,370.5 977.1,370.3 973.2,370.1 969.4,370.0 965.6,370.0 961.7,370.0 957.9,370.1 954.0,370.3 950.1,370.5 946.3,370.8 942.4,371.1 938.6,371.5 934.7,372.0 930.9,372.5 927.0,373.1 923.2,373.8 919.3,374.5 915.4,375.3 911.6,376.1 907.7,377.0 903.8,378.0 900.0,379.0 896.1,380.1 892.2,381.3 888.3,382.5 884.5,383.8 880.6,385.1 876.7,386.5 872.8,388.0 868.9,389.5 865.0,391.1 861.1,392.7 857.2,394.4 853.3,396.2 849.4,398.0 845.5,399.9 841.6,401.9 837.7,403.9 833.8,405.9 829.9,408.1 825.9,410.2 822.0,412.5 818.1,414.8 814.2,417.1 810.3,419.5 806.3,422.0 802.4,424.5 798.5,427.1 794.6,429.7 790.6,432.4 786.7,435.2 782.8,438.0 778.8,440.8 774.9,443.7 771.0,446.6 767.0,449.6 763.1,452.7 759.1,455.8 755.2,458.9 751.3,462.1 747.3,465.4 743.4,468.7 739.4,472.0 735.5,475.4 731.5,478.8 727.6,482.3 723.7,485.8 719.7,489.4 715.8,493.0 711.8,496.6 707.9,500.3 703.9,504.0 700.0,507.8 696.0,511.6 692.1,515.4 688.1,519.3 684.2,523.2 680.3,527.2 676.3,531.2 672.4,535.3 668.5,539.4 664.6,543.5 660.6,547.6 656.7,551.8 652.8,556.0 648.8,560.2 644.9,564.5 641.0,568.8 637.0,573.1 633.1,577.4 629.2,581.8 625.2,586.2 621.3,590.6 617.4,595.0 613.4,599.5 609.5,604.0 605.6,608.5 601.6,613.0 597.7,617.6 593.8,622.1 589.8,626.7 585.9,631.3 581.9,635.9 578.0,640.6 574.1,645.2 570.1,649.9 566.2,654.5 562.2,659.2 558.3,663.9 554.4,668.6 550.4,673.3 546.5,678.1 542.5,682.8 538.6,687.6 534.6,692.3 530.7,697.1 526.7,701.9 522.8,706.6 518.8,711.4 514.9,716.2 510.9,721.0 507.0,725.8 503.1,730.6 499.1,735.4 495.2,740.1 491.2,744.9 487.3,749.7 483.3,754.5 479.4,759.3 475.4,764.1 471.4,768.9 467.5,773.7 463.5,778.4 459.6,783.2 455.6,788.0 451.7,792.7 447.7,797.5 443.8,802.2 439.8,807.0 435.9,811.7 431.9,816.4 428.0,821.1 424.0,825.8 420.0,830.5 416.1,835.2 412.1,839.9 408.2,844.5 404.2,849.1 400.3,853.8 396.3,858.4 392.3,863.0 388.4,867.6 384.4,872.1 380.5,876.7 376.5,881.2 372.5,885.7 368.6,890.2 364.6,894.7 360.6,899.2 356.7,903.6 352.7,908.0 348.8,912.4 344.8,916.8 340.8,921.2 336.9,925.5 332.9,929.9 328.9,934.2 325.0,938.4 321.0,942.7 317.0,946.9 313.1,951.2 309.1,955.3 305.1,959.5 301.2,963.7 297.2,967.8 293.2,971.9 289.3,975.9 285.3,980.0 281.3,984.0 277.4,988.0 273.4,992.0 269.4,995.9 265.5,999.8 261.5,1003.8 257.6,1007.6 253.6,1011.5 249.7,1015.3 245.7,1019.1 241.8,1022.9 237.8,1026.7 233.9,1030.4 229.9,1034.1 226.0,1037.7 222.0,1041.4 218.1,1045.0 214.1,1048.6 210.2,1052.1 206.2,1055.7 202.3,1059.2 198.3,1062.6 194.4,1066.1 190.4,1069.5 186.5,1072.9 182.5,1076.2 178.5,1079.5 161.6,1082.0" fill="#ff0000" fill-opacity="0.32"/>
<polygon id="c2" points="161.6,1072.2 173.8,1073.8 177.7,1070.5 181.7,1067.2 185.6,1063.8 189.5,1060.5 193.5,1057.1 197.4,1053.6 201.4,1050.2 205.3,1046.7 209.3,1043.2 213.2,1039.6 217.2,1036.1 221.1,1032.5 225.1,1028.8 229.0,1025.2 233.0,1021.5 236.9,1017.8 240.9,1014.0 244.8,1010.3 248.8,1006.5 252.7,1002.6 256.7,998.8 260.6,994.9 264.6,991.0 268.5,987.1 272.5,983.1 276.4,979.1 280.3,975.1 284.3,971.1 288.2,967.0 292.1,962.9 296.1,958.8 300.0,954.6 304.0,950.5 307.9,946.3 311.8,942.1 315.8,937.8 319.7,933.6 323.7,929.3 327.6,925.0 331.5,920.7 335.5,916.3 339.4,912.0 343.4,907.6 347.3,903.2 351.2,898.8 355.2,894.3 359.1,889.9 363.1,885.4 367.0,880.9 371.0,876.4 374.9,871.9 378.8,867.3 382.8,862.7 386.7,858.2 390.7,853.6 394.6,849.0 398.6,844.3 402.5,839.7 406.5,835.0 410.4,830.4 414.3,825.7 418.3,821.0 422.2,816.3 426.2,811.6 430.1,806.9 434.1,802.2 438.0,797.4 442.0,792.7 445.9,787.9 449.9,783.2 453.8,778.4 457.8,773.7 461.7,768.9 465.7,764.1 469.6,759.3 473.5,754.5 477.5,749.7 481.4,744.9 485.4,740.2 489.3,735.4 493.3,730.6 497.2,725.8 501.2,721.0 505.1,716.2 509.1,711.4 513.0,706.6 517.0,701.8 521.0,697.1 524.9,692.3 528.9,687.5 532.8,682.8 536.8,678.0 540.7,673.3 544.7,668.5 548.6,663.8 552.6,659.1 556.5,654.4 560.5,649.7 564.4,645.1 568.4,640.4 572.4,635.7 576.3,631.1 580.3,626.5 584.2,621.9 588.2,617.3 592.1,612.7 596.1,608.2 600.0,603.7 604.0,599.2 608.0,594.7 611.9,590.2 615.9,585.8 619.8,581.3 623.8,576.9 627.8,572.6 631.7,568.2 635.7,563.9 639.6,559.6 643.6,555.4 647.6,551.1 651.5,546.9 655.5,542.7 659.5,538.6 663.4,534.5 667.4,530.4 671.4,526.4 675.3,522.3 679.3,518.4 683.2,514.4 687.2,510.5 691.1,506.6 695.1,502.7 699.0,498.9 703.0,495.2 706.9,491.4 710.9,487.7 714.8,484.1 718.8,480.4 722.8,476.9 726.7,473.3 730.7,469.8 734.6,466.4 738.6,463.0 742.5,459.6 746.5,456.3 750.4,453.1 754.4,449.9 758.3,446.7 762.3,443.6 766.3,440.5 770.2,437.5 774.2,434.5 778.1,431.6 782.1,428.7 786.0,425.9 790.0,423.1 794.0,420.4 797.9,417.7 801.9,415.1 805.9,412.6 809.8,410.1 813.8,407.6 817.8,405.2 821.7,402.9 825.7,400.6 829.7,398.4 833.7,396.3 837.6,394.2 841.6,392.1 845.6,390.1 849.6,388.2 853.5,386.4 857.5,384.6 861.5,382.8 865.5,381.1 869.5,379.5 873.5,378.0 877.5,376.5 881.4,375.1 885.4,373.7 889.4,372.4 893.4,371.2 897.4,370.0 901.4,368.9 905.4,367.8 909.4,366.9 913.4,366.0 917.4,365.1 921.4,364.3 925.4,363.6 929.5,363.0 933.5,362.4 937.5,361.9 941.5,361.5 945.5,361.1 949.5,360.8 953.5,360.5 957.5,360.4 961.5,360.3 965.6,360.2 969.6,360.3 973.6,360.4 977.6,360.5 981.6,360.8 985.6,361.1 989.6,361.5 993.6,361.9 997.6,362.4 1001.6,363.0 1005.7,363.6 1009.7,364.3 1013.7,365.1 1017.7,366.0 1021.7,366.9 1025.7,367.8 1029.7,368.9 1033.7,370.0 1037.7,371.2 1041.7,372.4 1045.7,373.7 1049.7,375.1 1053.6,376.5 1057.6,378.0 1061.6,379.5 1065.6,381.1 1069.6,382.8 1073.6,384.6 1077.6,386.4 1081.5,388.2 1085.5,390.1 1089.5,392.1 1093.5,394.2 1097.4,396.3 1101.4,398.4 1105.4,400.6 1109.4,402.9 1113.3,405.2 1117.3,407.6 1121.3,410.1 1125.2,412.6 1129.2,415.1 1133.2,417.7 1137.1,420.4 1141.1,423.1 1145.1,425.9 1149.0,428.7 1153.0,431.6 1156.9,434.5 1160.9,437.5 1164.8,440.5 1168.8,443.6 1172.8,446.7 1176.7,449.9 1180.7,453.1 1184.6,456.3 1188.6,459.6 1192.5,463.0 1196.5,466.4 1200.4,469.8 1204.4,473.3 1208.3,476.9 1212.3,480.4 1216.3,484.1 1220.2,487.7 1224.2,491.4 1228.1,495.2 1232.1,498.9 1236.0,502.7 1240.0,506.6 1243.9,510.5 1247.9,514.4 1251.8,518.4 1255.8,522.3 1259.7,526.4 1263.7,530.4 1267.7,534.5 1271.6,538.6 1275.6,542.7 1279.6,546.9 1283.5,551.1 1287.5,555.4 1291.5,559.6 1295.4,563.9 1299.4,568.2 1303.3,572.6 1307.3,576.9 1311.3,581.3 1315.2,585.8 1319.2,590.2 1323.1,594.7 1327.1,599.2 1331.1,603.7 1335.0,608.2 1339.0,612.7 1342.9,617.3 1346.9,621.9 1350.8,626.5 1354.8,631.1 1358.7,635.7 1362.7,640.4 1366.7,645.1 1370.6,649.7 1374.6,654.4 1378.5,659.1 1382.5,663.8 1386.4,668.5 1390.4,673.3 1394.3,678.0 1398.3,682.8 1402.2,687.5 1406.2,692.3 1410.1,697.1 1414.1,701.8 1418.1,706.6 1422.0,711.4 1426.0,716.2 1429.9,721.0 1433.9,725.8 1437.8,730.6 1441.8,735.4 1445.7,740.2 1449.7,744.9 1453.6,749.7 1457.6,754.5 1461.5,759.3 1465.4,764.1 1469.4,768.9 1473.3,773.7 1477.3,778.4 1481.2,783.2 1485.2,787.9 1489.1,792.7 1493.1,797.4 1497.0,802.2 1501.0,806.9 1504.9,811.6 1508.9,816.3 1512.8,821.0 1516.8,825.7 1520.7,830.4 1524.6,835.0 1528.6,839.7 1532.5,844.3 1536.5,849.0 1540.4,853.6 1544.4,858.2 1548.3,862.7 1552.3,867.3 1556.2,871.9 1560.1,876.4 1564.1,880.9 1568.0,885.4 1572.0,889.9 1575.9,894.3 1579.9,898.8 1583.8,903.2 1587.7,907.6 1591.7,912.0 1595.6,916.3 1599.6,920.7 1603.5,925.0 1607.4,929.3 1611.4,933.6 1615.3,937.8 1619.3,942.1 1623.2,946.3 1627.1,950.5 1631.1,954.6 1635.0,958.8 1639.0,962.9 1642.9,967.0 1646.8,971.1 1650.8,975.1 1654.7,979.1 1658.6,983.1 1662.6,987.1 1666.5,991.0 1670.5,994.9 1674.4,998.8 1678.4,1002.6 1682.3,1006.5 1686.3,1010.3 1690.2,1014.0 1694.2,1017.8 1698.1,1021.5 1702.1,1025.2 1706.0,1028.8 1710.0,1032.5 1713.9,1036.1 1717.9,1039.6 1721.8,1043.2 1725.8,1046.7 1729.7,1050.2 1733.7,1053.6 1737.6,1057.1 1741.6,1060.5 1745.5,1063.8 1749.4,1067.2 1753.4,1070.5 1757.3,1073.8 1769.5,1072.2 1769.5,1079.7 1753.7,1078.2 1749.7,1074.9 1745.8,1071.5 1741.8,1068.2 1737.8,1064.8 1733.9,1061.3 1729.9,1057.9 1726.0,1054.4 1722.0,1050.9 1718.1,1047.3 1714.1,1043.8 1710.2,1040.1 1706.2,1036.5 1702.3,1032.9 1698.3,1029.2 1694.4,1025.5 1690.4,1021.7 1686.5,1018.0 1682.5,1014.2 1678.6,1010.3 1674.6,1006.5 1670.7,1002.6 1666.7,998.7 1662.8,994.8 1658.8,990.8 1654.9,986.9 1650.9,982.9 1646.9,978.9 1643.0,974.8 1639.0,970.7 1635.1,966.6 1631.1,962.5 1627.1,958.4 1623.2,954.2 1619.2,950.0 1615.3,945.8 1611.3,941.6 1607.3,937.3 1603.4,933.0 1599.4,928.7 1595.5,924.4 1591.5,920.1 1587.5,915.7 1583.6,911.3 1579.6,906.9 1575.7,902.5 1571.7,898.1 1567.8,893.6 1563.8,889.1 1559.8,884.6 1555.9,880.1 1551.9,875.6 1548.0,871.0 1544.0,866.5 1540.1,861.9 1536.1,857.3 1532.1,852.7 1528.2,848.0 1524.2,843.4 1520.3,838.7 1516.3,834.1 1512.4,829.4 1508.4,824.7 1504.5,820.0 1500.5,815.3 1496.6,810.6 1492.6,805.9 1488.7,801.1 1484.7,796.4 1480.7,791.6 1476.8,786.9 1472.8,782.1 1468.9,777.3 1464.9,772.6 1461.0,767.8 1457.0,763.0 1453.1,758.2 1449.1,753.4 1445.2,748.6 1441.2,743.8 1437.3,739.0 1433.3,734.2 1429.4,729.5 1425.4,724.7 1421.5,719.9 1417.5,715.1 1413.6,710.3 1409.6,705.5 1405.7,700.7 1401.7,696.0 1397.8,691.2 1393.9,686.5 1389.9,681.7 1386.0,677.0 1382.0,672.2 1378.1,667.5 1374.1,662.8 1370.2,658.1 1366.2,653.4 1362.3,648.7 1358.3,644.1 1354.4,639.4 1350.5,634.8 1346.5,630.2 1342.6,625.6 1338.6,621.0 1334.7,616.4 1330.7,611.9 1326.8,607.4 1322.9,602.9 1318.9,598.4 1315.0,593.9 1311.0,589.5 1307.1,585.1 1303.2,580.7 1299.2,576.3 1295.3,572.0 1291.3,567.6 1287.4,563.4 1283.5,559.1 1279.5,554.9 1275.6,550.7 1271.7,546.5 1267.7,542.3 1263.8,538.2 1259.9,534.2 1255.9,530.1 1252.0,526.1 1248.1,522.1 1244.1,518.2 1240.2,514.3 1236.2,510.4 1232.3,506.6 1228.3,502.8 1224.4,499.1 1220.4,495.4 1216.5,491.8 1212.5,488.1 1208.6,484.6 1204.6,481.0 1200.7,477.6 1196.7,474.1 1192.8,470.7 1188.8,467.4 1184.9,464.1 1180.9,460.8 1177.0,457.6 1173.1,454.4 1169.1,451.3 1165.2,448.2 1161.2,445.2 1157.3,442.3 1153.3,439.3 1149.4,436.5 1145.5,433.7 1141.5,430.9 1137.6,428.2 1133.7,425.6 1129.7,423.0 1125.8,420.4 1121.8,417.9 1117.9,415.5 1114.0,413.1 1110.1,410.8 1106.1,408.5 1102.2,406.3 1098.3,404.2 1094.3,402.1 1090.4,400.1 1086.5,398.1 1082.6,396.2 1078.6,394.4 1074.7,392.6 1070.8,390.8 1066.9,389.2 1063.0,387.6 1059.1,386.0 1055.2,384.5 1051.2,383.1 1047.3,381.8 1043.4,380.5 1039.5,379.2 1035.6,378.0 1031.7,376.9 1027.8,375.9 1023.9,374.9 1020.0,374.0 1016.1,373.1 1012.2,372.3 1008.3,371.6 1004.4,370.9 1000.5,370.3 996.7,369.8 992.8,369.3 988.9,368.9 985.0,368.5 981.1,368.3 977.2,368.0 973.3,367.9 969.4,367.8 965.6,367.7 961.7,367.8 957.8,367.9 953.9,368.0 950.0,368.3 946.1,368.5 942.2,368.9 938.3,369.3 934.4,369.8 930.6,370.3 926.7,370.9 922.8,371.6 918.9,372.3 915.0,373.1 911.1,374.0 907.2,374.9 903.3,375.9 899.4,376.9 895.5,378.0 891.6,379.2 887.7,380.5 883.8,381.8 879.9,383.1 875.9,384.5 872.0,386.0 868.1,387.6 864.2,389.2 860.3,390.8 856.4,392.6 852.5,394.4 848.5,396.2 844.6,398.1 840.7,400.1 836.8,402.1 832.8,404.2 828.9,406.3 825.0,408.5 821.0,410.8 817.1,413.1 813.2,415.5 809.3,417.9 805.3,420.4 801.4,423.0 797.4,425.6 793.5,428.2 789.6,430.9 785.6,433.7 781.7,436.5 777.8,439.3 773.8,442.3 769.9,445.2 765.9,448.2 762.0,451.3 758.0,454.4 754.1,457.6 750.2,460.8 746.2,464.1 742.3,467.4 738.3,470.7 734.4,474.1 730.4,477.6 726.5,481.0 722.5,484.6 718.6,488.1 714.6,491.8 710.7,495.4 706.7,499.1 702.8,502.8 698.8,506.6 694.9,510.4 690.9,514.3 687.0,518.2 683.0,522.1 679.1,526.1 675.2,530.1 671.2,534.2 667.3,538.2 663.4,542.3 659.4,546.5 655.5,550.7 651.6,554.9 647.6,559.1 643.7,563.4 639.8,567.6 635.8,572.0 631.9,576.3 627.9,580.7 624.0,585.1 620.1,589.5 616.1,593.9 612.2,598.4 608.2,602.9 604.3,607.4 600.4,611.9 596.4,616.4 592.5,621.0 588.5,625.6 584.6,630.2 580.6,634.8 576.7,639.4 572.8,644.1 568.8,648.7 564.9,653.4 560.9,658.1 557.0,662.8 553.0,667.5 549.1,672.2 545.1,677.0 541.2,681.7 537.2,686.5 533.3,691.2 529.4,696.0 525.4,700.7 521.5,705.5 517.5,710.3 513.6,715.1 509.6,719.9 505.7,724.7 501.7,729.5 497.8,734.2 493.8,739.0 489.9,743.8 485.9,748.6 482.0,753.4 478.0,758.2 474.1,763.0 470.1,767.8 466.2,772.6 462.2,777.3 458.3,782.1 454.3,786.9 450.4,791.6 446.4,796.4 442.4,801.1 438.5,805.9 434.5,810.6 430.6,815.3 426.6,820.0 422.7,824.7 418.7,829.4 414.8,834.1 410.8,838.7 406.9,843.4 402.9,848.0 399.0,852.7 395.0,857.3 391.0,861.9 387.1,866.5 383.1,871.0 379.2,875.6 375.2,880.1 371.3,884.6 367.3,889.1 363.3,893.6 359.4,898.1 355.4,902.5 351.5,906.9 347.5,911.3 343.6,915.7 339.6,920.1 335.6,924.4 331.7,928.7 327.7,933.0 323.8,937.3 319.8,941.6 315.8,945.8 311.9,950.0 307.9,954.2 304.0,958.4 300.0,962.5 296.0,966.6 292.1,970.7 288.1,974.8 284.2,978.9 280.2,982.9 276.2,986.9 272.3,990.8 268.3,994.8 264.4,998.7 260.4,1002.6 256.5,1006.5 252.5,1010.3 248.6,1014.2 244.6,1018.0 240.7,1021.7 236.7,1025.5 232.8,1029.2 228.8,1032.9 224.9,1036.5 220.9,1040.1 217.0,1043.8 213.0,1047.3 209.1,1050.9 205.1,1054.4 201.2,1057.9 197.2,1061.3 193.3,1064.8 189.3,1068.2 185.3,1071.5 181.4,1074.9 177.4,1078.2 161.6,1079.7" fill="#ff0000"/>
<polygon points="161.6,1128.9 172.7,1130.7 176.7,1128.3 180.6,1125.8 184.5,1123.3 188.5,1120.8 192.4,1118.3 196.4,1115.7 200.3,1113.1 204.2,1110.5 208.2,1107.9 212.1,1105.3 216.1,1102.6 220.0,1099.9 223.9,1097.2 227.9,1094.5 231.8,1091.7 235.8,1089.0 239.7,1086.2 243.7,1083.3 247.6,1080.5 251.5,1077.7 255.5,1074.8 259.4,1071.9 263.4,1069.0 267.3,1066.0 271.3,1063.1 275.2,1060.1 279.2,1057.1 283.1,1054.1 287.0,1051.1 291.0,1048.0 294.9,1045.0 298.9,1041.9 302.8,1038.8 306.8,1035.7 310.7,1032.5 314.7,1029.4 318.6,1026.2 322.6,1023.0 326.5,1019.8 330.5,1016.6 334.4,1013.3 338.3,1010.1 342.3,1006.8 346.2,1003.5 350.2,1000.2 354.1,996.9 358.1,993.6 362.0,990.3 366.0,986.9 369.9,983.5 373.9,980.1 377.8,976.7 381.8,973.3 385.7,969.9 389.7,966.5 393.6,963.0 397.6,959.6 401.5,956.1 405.5,952.7 409.4,949.2 413.4,945.7 417.3,942.2 421.3,938.7 425.2,935.1 429.2,931.6 433.1,928.1 437.1,924.5 441.0,921.0 444.9,917.4 448.9,913.9 452.8,910.3 456.8,906.7 460.7,903.2 464.7,899.6 468.6,896.0 472.6,892.4 476.5,888.8 480.5,885.2 484.4,881.7 488.4,878.1 492.3,874.5 496.3,870.9 500.2,867.3 504.2,863.7 508.1,860.1 512.1,856.5 516.0,852.9 520.0,849.4 523.9,845.8 527.9,842.2 531.8,838.6 535.8,835.1 539.7,831.5 543.7,828.0 547.6,824.4 551.6,820.9 555.5,817.4 559.5,813.8 563.4,810.3 567.4,806.8 571.4,803.3 575.3,799.9 579.3,796.4 583.2,792.9 587.2,789.5 591.1,786.1 595.1,782.6 599.0,779.2 603.0,775.8 606.9,772.5 610.9,769.1 614.8,765.8 618.8,762.4 622.7,759.1 626.7,755.8 630.6,752.6 634.6,749.3 638.5,746.1 642.5,742.9 646.4,739.7 650.4,736.5 654.4,733.4 658.3,730.2 662.3,727.1 666.2,724.1 670.2,721.0 674.1,718.0 678.1,715.0 682.1,712.0 686.0,709.0 690.0,706.1 693.9,703.2 697.9,700.3 701.8,697.5 705.8,694.7 709.8,691.9 713.7,689.1 717.7,686.4 721.7,683.7 725.6,681.0 729.6,678.4 733.5,675.8 737.5,673.2 741.5,670.7 745.5,668.2 749.4,665.8 753.4,663.3 757.4,660.9 761.3,658.6 765.3,656.3 769.3,654.0 773.3,651.7 777.2,649.5 781.2,647.4 785.2,645.2 789.2,643.1 793.1,641.1 797.1,639.1 801.1,637.1 805.1,635.2 809.1,633.3 813.1,631.4 817.0,629.6 821.0,627.9 825.0,626.2 829.0,624.5 833.0,622.8 837.0,621.3 841.0,619.7 845.0,618.2 849.0,616.8 853.0,615.4 857.0,614.0 861.0,612.7 865.0,611.4 869.0,610.2 873.0,609.0 877.0,607.9 881.1,606.8 885.1,605.8 889.1,604.8 893.1,603.9 897.1,603.0 901.1,602.1 905.2,601.4 909.2,600.6 913.2,599.9 917.2,599.3 921.2,598.7 925.3,598.2 929.3,597.7 933.3,597.2 937.3,596.9 941.4,596.5 945.4,596.3 949.4,596.0 953.5,595.8 957.5,595.7 961.5,595.6 965.6,595.6 969.6,595.6 973.6,595.7 977.6,595.8 981.7,596.0 985.7,596.3 989.7,596.5 993.8,596.9 997.8,597.2 1001.8,597.7 1005.8,598.2 1009.9,598.7 1013.9,599.3 1017.9,599.9 1021.9,600.6 1025.9,601.4 1030.0,602.1 1034.0,603.0 1038.0,603.9 1042.0,604.8 1046.0,605.8 1050.0,606.8 1054.1,607.9 1058.1,609.0 1062.1,610.2 1066.1,611.4 1070.1,612.7 1074.1,614.0 1078.1,615.4 1082.1,616.8 1086.1,618.2 1090.1,619.7 1094.1,621.3 1098.1,622.8 1102.1,624.5 1106.1,626.2 1110.1,627.9 1114.1,629.6 1118.0,631.4 1122.0,633.3 1126.0,635.2 1130.0,637.1 1134.0,639.1 1138.0,641.1 1141.9,643.1 1145.9,645.2 1149.9,647.4 1153.9,649.5 1157.8,651.7 1161.8,654.0 1165.8,656.3 1169.8,658.6 1173.7,660.9 1177.7,663.3 1181.7,665.8 1185.6,668.2 1189.6,670.7 1193.6,673.2 1197.6,675.8 1201.5,678.4 1205.5,681.0 1209.4,683.7 1213.4,686.4 1217.4,689.1 1221.3,691.9 1225.3,694.7 1229.3,697.5 1233.2,700.3 1237.2,703.2 1241.1,706.1 1245.1,709.0 1249.0,712.0 1253.0,715.0 1257.0,718.0 1260.9,721.0 1264.9,724.1 1268.8,727.1 1272.8,730.2 1276.7,733.4 1280.7,736.5 1284.7,739.7 1288.6,742.9 1292.6,746.1 1296.5,749.3 1300.5,752.6 1304.4,755.8 1308.4,759.1 1312.3,762.4 1316.3,765.8 1320.2,769.1 1324.2,772.5 1328.1,775.8 1332.1,779.2 1336.0,782.6 1340.0,786.1 1343.9,789.5 1347.9,792.9 1351.8,796.4 1355.8,799.9 1359.7,803.3 1363.7,806.8 1367.7,810.3 1371.6,813.8 1375.6,817.4 1379.5,820.9 1383.5,824.4 1387.4,828.0 1391.4,831.5 1395.3,835.1 1399.3,838.6 1403.2,842.2 1407.2,845.8 1411.1,849.4 1415.1,852.9 1419.0,856.5 1423.0,860.1 1426.9,863.7 1430.9,867.3 1434.8,870.9 1438.8,874.5 1442.7,878.1 1446.7,881.7 1450.6,885.2 1454.6,888.8 1458.5,892.4 1462.5,896.0 1466.4,899.6 1470.4,903.2 1474.3,906.7 1478.3,910.3 1482.2,913.9 1486.2,917.4 1490.1,921.0 1494.0,924.5 1498.0,928.1 1501.9,931.6 1505.9,935.1 1509.8,938.7 1513.8,942.2 1517.7,945.7 1521.7,949.2 1525.6,952.7 1529.6,956.1 1533.5,959.6 1537.5,963.0 1541.4,966.5 1545.4,969.9 1549.3,973.3 1553.3,976.7 1557.2,980.1 1561.2,983.5 1565.1,986.9 1569.1,990.3 1573.0,993.6 1577.0,996.9 1580.9,1000.2 1584.9,1003.5 1588.8,1006.8 1592.8,1010.1 1596.7,1013.3 1600.6,1016.6 1604.6,1019.8 1608.5,1023.0 1612.5,1026.2 1616.4,1029.4 1620.4,1032.5 1624.3,1035.7 1628.3,1038.8 1632.2,1041.9 1636.2,1045.0 1640.1,1048.0 1644.1,1051.1 1648.0,1054.1 1651.9,1057.1 1655.9,1060.1 1659.8,1063.1 1663.8,1066.0 1667.7,1069.0 1671.7,1071.9 1675.6,1074.8 1679.6,1077.7 1683.5,1080.5 1687.4,1083.3 1691.4,1086.2 1695.3,1089.0 1699.3,1091.7 1703.2,1094.5 1707.2,1097.2 1711.1,1099.9 1715.0,1102.6 1719.0,1105.3 1722.9,1107.9 1726.9,1110.5 1730.8,1113.1 1734.7,1115.7 1738.7,1118.3 1742.6,1120.8 1746.6,1123.3 1750.5,1125.8 1754.4,1128.3 1758.4,1130.7 1769.5,1128.9 1769.5,1141.7 1752.6,1139.9 1748.7,1137.5 1744.7,1134.9 1740.7,1132.4 1736.8,1129.8 1732.8,1127.3 1728.9,1124.7 1724.9,1122.0 1720.9,1119.4 1717.0,1116.7 1713.0,1114.0 1709.1,1111.3 1705.1,1108.6 1701.2,1105.8 1697.2,1103.1 1693.2,1100.3 1689.3,1097.5 1685.3,1094.6 1681.4,1091.8 1677.4,1088.9 1673.5,1086.0 1669.5,1083.1 1665.5,1080.2 1661.6,1077.2 1657.6,1074.2 1653.7,1071.3 1649.7,1068.2 1645.8,1065.2 1641.8,1062.2 1637.9,1059.1 1633.9,1056.0 1630.0,1052.9 1626.0,1049.8 1622.0,1046.7 1618.1,1043.5 1614.1,1040.3 1610.2,1037.1 1606.2,1033.9 1602.3,1030.7 1598.3,1027.5 1594.4,1024.2 1590.4,1021.0 1586.5,1017.7 1582.5,1014.4 1578.6,1011.1 1574.6,1007.7 1570.7,1004.4 1566.7,1001.0 1562.8,997.7 1558.8,994.3 1554.8,990.9 1550.9,987.5 1546.9,984.1 1543.0,980.6 1539.0,977.2 1535.1,973.8 1531.1,970.3 1527.2,966.8 1523.2,963.3 1519.3,959.8 1515.3,956.3 1511.4,952.8 1507.4,949.3 1503.5,945.8 1499.5,942.3 1495.6,938.7 1491.6,935.2 1487.7,931.6 1483.7,928.1 1479.8,924.5 1475.8,920.9 1471.9,917.3 1467.9,913.8 1464.0,910.2 1460.0,906.6 1456.1,903.0 1452.1,899.4 1448.2,895.8 1444.2,892.3 1440.3,888.7 1436.3,885.1 1432.4,881.5 1428.4,877.9 1424.5,874.3 1420.5,870.7 1416.6,867.1 1412.6,863.5 1408.7,860.0 1404.7,856.4 1400.8,852.8 1396.8,849.3 1392.9,845.7 1388.9,842.2 1385.0,838.6 1381.0,835.1 1377.1,831.5 1373.1,828.0 1369.2,824.5 1365.2,821.0 1361.3,817.5 1357.3,814.0 1353.4,810.6 1349.5,807.1 1345.5,803.7 1341.6,800.2 1337.6,796.8 1333.7,793.4 1329.7,790.0 1325.8,786.6 1321.8,783.3 1317.9,779.9 1313.9,776.6 1310.0,773.3 1306.0,770.0 1302.1,766.7 1298.1,763.5 1294.2,760.2 1290.2,757.0 1286.3,753.8 1282.4,750.6 1278.4,747.5 1274.5,744.4 1270.5,741.3 1266.6,738.2 1262.6,735.1 1258.7,732.1 1254.7,729.1 1250.8,726.1 1246.9,723.1 1242.9,720.2 1239.0,717.3 1235.0,714.4 1231.1,711.6 1227.2,708.8 1223.2,706.0 1219.3,703.2 1215.3,700.5 1211.4,697.8 1207.5,695.2 1203.5,692.5 1199.6,689.9 1195.7,687.4 1191.7,684.9 1187.8,682.4 1183.9,679.9 1179.9,677.5 1176.0,675.1 1172.1,672.7 1168.1,670.4 1164.2,668.1 1160.3,665.9 1156.4,663.7 1152.4,661.5 1148.5,659.4 1144.6,657.3 1140.7,655.3 1136.7,653.3 1132.8,651.3 1128.9,649.4 1125.0,647.5 1121.1,645.6 1117.2,643.8 1113.2,642.1 1109.3,640.4 1105.4,638.7 1101.5,637.0 1097.6,635.4 1093.7,633.9 1089.8,632.4 1085.9,630.9 1082.0,629.5 1078.1,628.2 1074.2,626.8 1070.3,625.5 1066.4,624.3 1062.5,623.1 1058.6,622.0 1054.7,620.9 1050.8,619.8 1046.9,618.8 1043.1,617.8 1039.2,616.9 1035.3,616.1 1031.4,615.2 1027.5,614.5 1023.6,613.7 1019.8,613.0 1015.9,612.4 1012.0,611.8 1008.1,611.3 1004.3,610.8 1000.4,610.3 996.5,609.9 992.6,609.6 988.8,609.3 984.9,609.0 981.0,608.8 977.2,608.6 973.3,608.5 969.4,608.4 965.6,608.4 961.7,608.4 957.8,608.5 953.9,608.6 950.1,608.8 946.2,609.0 942.3,609.3 938.5,609.6 934.6,609.9 930.7,610.3 926.8,610.8 923.0,611.3 919.1,611.8 915.2,612.4 911.3,613.0 907.5,613.7 903.6,614.5 899.7,615.2 895.8,616.1 891.9,616.9 888.0,617.8 884.2,618.8 880.3,619.8 876.4,620.9 872.5,622.0 868.6,623.1 864.7,624.3 860.8,625.5 856.9,626.8 853.0,628.2 849.1,629.5 845.2,630.9 841.3,632.4 837.4,633.9 833.5,635.4 829.6,637.0 825.7,638.7 821.8,640.4 817.9,642.1 813.9,643.8 810.0,645.6 806.1,647.5 802.2,649.4 798.3,651.3 794.4,653.3 790.4,655.3 786.5,657.3 782.6,659.4 778.7,661.5 774.7,663.7 770.8,665.9 766.9,668.1 763.0,670.4 759.0,672.7 755.1,675.1 751.2,677.5 747.2,679.9 743.3,682.4 739.4,684.9 735.4,687.4 731.5,689.9 727.6,692.5 723.6,695.2 719.7,697.8 715.8,700.5 711.8,703.2 707.9,706.0 703.9,708.8 700.0,711.6 696.1,714.4 692.1,717.3 688.2,720.2 684.2,723.1 680.3,726.1 676.4,729.1 672.4,732.1 668.5,735.1 664.5,738.2 660.6,741.3 656.6,744.4 652.7,747.5 648.7,750.6 644.8,753.8 640.9,757.0 636.9,760.2 633.0,763.5 629.0,766.7 625.1,770.0 621.1,773.3 617.2,776.6 613.2,779.9 609.3,783.3 605.3,786.6 601.4,790.0 597.4,793.4 593.5,796.8 589.5,800.2 585.6,803.7 581.6,807.1 577.7,810.6 573.8,814.0 569.8,817.5 565.9,821.0 561.9,824.5 558.0,828.0 554.0,831.5 550.1,835.1 546.1,838.6 542.2,842.2 538.2,845.7 534.3,849.3 530.3,852.8 526.4,856.4 522.4,860.0 518.5,863.5 514.5,867.1 510.6,870.7 506.6,874.3 502.7,877.9 498.7,881.5 494.8,885.1 490.8,888.7 486.9,892.3 482.9,895.8 479.0,899.4 475.0,903.0 471.1,906.6 467.1,910.2 463.2,913.8 459.2,917.3 455.3,920.9 451.3,924.5 447.4,928.1 443.4,931.6 439.5,935.2 435.5,938.7 431.6,942.3 427.6,945.8 423.7,949.3 419.7,952.8 415.8,956.3 411.8,959.8 407.9,963.3 403.9,966.8 400.0,970.3 396.0,973.8 392.1,977.2 388.1,980.6 384.2,984.1 380.2,987.5 376.3,990.9 372.3,994.3 368.3,997.7 364.4,1001.0 360.4,1004.4 356.5,1007.7 352.5,1011.1 348.6,1014.4 344.6,1017.7 340.7,1021.0 336.7,1024.2 332.8,1027.5 328.8,1030.7 324.9,1033.9 320.9,1037.1 317.0,1040.3 313.0,1043.5 309.1,1046.7 305.1,1049.8 301.1,1052.9 297.2,1056.0 293.2,1059.1 289.3,1062.2 285.3,1065.2 281.4,1068.2 277.4,1071.3 273.5,1074.2 269.5,1077.2 265.6,1080.2 261.6,1083.1 257.6,1086.0 253.7,1088.9 249.7,1091.8 245.8,1094.6 241.8,1097.5 237.9,1100.3 233.9,1103.1 229.9,1105.8 226.0,1108.6 222.0,1111.3 218.1,1114.0 214.1,1116.7 210.2,1119.4 206.2,1122.0 202.2,1124.7 198.3,1127.3 194.3,1129.8 190.4,1132.4 186.4,1134.9 182.4,1137.5 178.5,1139.9 161.6,1141.7" fill="#00ff00" fill-opacity="0.38"/>
<polygon id="c3" points="161.6,1130.8 173.6,1132.1 177.5,1129.6 181.5,1127.2 185.4,1124.7 189.3,1122.1 193.3,1119.6 197.2,1117.0 201.2,1114.4 205.1,1111.8 209.1,1109.2 213.0,1106.6 217.0,1103.9 220.9,1101.2 224.8,1098.5 228.8,1095.7 232.7,1093.0 236.7,1090.2 240.6,1087.4 244.6,1084.6 248.5,1081.8 252.5,1078.9 256.4,1076.0 260.3,1073.1 264.3,1070.2 268.2,1067.3 272.2,1064.3 276.1,1061.3 280.1,1058.3 284.0,1055.3 288.0,1052.3 291.9,1049.2 295.9,1046.2 299.8,1043.1 303.8,1040.0 307.7,1036.8 311.6,1033.7 315.6,1030.5 319.5,1027.4 323.5,1024.2 327.4,1020.9 331.4,1017.7 335.3,1014.5 339.3,1011.2 343.2,1007.9 347.2,1004.7 351.1,1001.4 355.1,998.0 359.0,994.7 363.0,991.4 366.9,988.0 370.9,984.6 374.8,981.2 378.8,977.8 382.7,974.4 386.7,971.0 390.6,967.6 394.6,964.1 398.5,960.7 402.5,957.2 406.4,953.7 410.4,950.2 414.3,946.7 418.2,943.2 422.2,939.7 426.1,936.2 430.1,932.7 434.0,929.1 438.0,925.6 441.9,922.0 445.9,918.5 449.8,914.9 453.8,911.4 457.7,907.8 461.7,904.2 465.6,900.6 469.6,897.0 473.5,893.5 477.5,889.9 481.4,886.3 485.4,882.7 489.3,879.1 493.3,875.5 497.2,871.9 501.2,868.3 505.1,864.7 509.1,861.2 513.0,857.6 517.0,854.0 520.9,850.4 524.9,846.8 528.8,843.3 532.8,839.7 536.7,836.1 540.7,832.6 544.6,829.0 548.6,825.5 552.5,822.0 556.5,818.4 560.4,814.9 564.4,811.4 568.3,807.9 572.3,804.4 576.2,800.9 580.2,797.5 584.1,794.0 588.1,790.6 592.0,787.1 596.0,783.7 599.9,780.3 603.9,776.9 607.9,773.6 611.8,770.2 615.8,766.9 619.7,763.6 623.7,760.3 627.6,757.0 631.6,753.7 635.5,750.5 639.5,747.2 643.4,744.0 647.4,740.8 651.3,737.7 655.3,734.5 659.2,731.4 663.2,728.3 667.1,725.2 671.1,722.2 675.1,719.2 679.0,716.2 683.0,713.2 686.9,710.3 690.9,707.3 694.8,704.4 698.8,701.6 702.7,698.7 706.7,695.9 710.7,693.2 714.6,690.4 718.6,687.7 722.5,685.0 726.5,682.4 730.5,679.7 734.4,677.2 738.4,674.6 742.3,672.1 746.3,669.6 750.3,667.1 754.2,664.7 758.2,662.3 762.2,660.0 766.1,657.7 770.1,655.4 774.1,653.2 778.0,651.0 782.0,648.8 786.0,646.7 789.9,644.6 793.9,642.6 797.9,640.6 801.8,638.6 805.8,636.7 809.8,634.9 813.8,633.0 817.7,631.2 821.7,629.5 825.7,627.8 829.7,626.1 833.7,624.5 837.6,622.9 841.6,621.4 845.6,619.9 849.6,618.5 853.6,617.1 857.6,615.7 861.6,614.4 865.5,613.1 869.5,611.9 873.5,610.8 877.5,609.7 881.5,608.6 885.5,607.6 889.5,606.6 893.5,605.7 897.5,604.8 901.5,604.0 905.5,603.2 909.5,602.5 913.5,601.8 917.5,601.2 921.5,600.6 925.5,600.0 929.5,599.6 933.5,599.1 937.5,598.8 941.5,598.4 945.5,598.1 949.5,597.9 953.5,597.7 957.5,597.6 961.5,597.5 965.6,597.5 969.6,597.5 973.6,597.6 977.6,597.7 981.6,597.9 985.6,598.1 989.6,598.4 993.6,598.8 997.6,599.1 1001.6,599.6 1005.6,600.0 1009.6,600.6 1013.6,601.2 1017.6,601.8 1021.6,602.5 1025.6,603.2 1029.6,604.0 1033.6,604.8 1037.6,605.7 1041.6,606.6 1045.6,607.6 1049.6,608.6 1053.6,609.7 1057.6,610.8 1061.6,611.9 1065.6,613.1 1069.5,614.4 1073.5,615.7 1077.5,617.1 1081.5,618.5 1085.5,619.9 1089.5,621.4 1093.5,622.9 1097.4,624.5 1101.4,626.1 1105.4,627.8 1109.4,629.5 1113.4,631.2 1117.3,633.0 1121.3,634.9 1125.3,636.7 1129.3,638.6 1133.2,640.6 1137.2,642.6 1141.2,644.6 1145.1,646.7 1149.1,648.8 1153.1,651.0 1157.0,653.2 1161.0,655.4 1165.0,657.7 1168.9,660.0 1172.9,662.3 1176.9,664.7 1180.8,667.1 1184.8,669.6 1188.8,672.1 1192.7,674.6 1196.7,677.2 1200.6,679.7 1204.6,682.4 1208.6,685.0 1212.5,687.7 1216.5,690.4 1220.4,693.2 1224.4,695.9 1228.4,698.7 1232.3,701.6 1236.3,704.4 1240.2,707.3 1244.2,710.3 1248.1,713.2 1252.1,716.2 1256.0,719.2 1260.0,722.2 1264.0,725.2 1267.9,728.3 1271.9,731.4 1275.8,734.5 1279.8,737.7 1283.7,740.8 1287.7,744.0 1291.6,747.2 1295.6,750.5 1299.5,753.7 1303.5,757.0 1307.4,760.3 1311.4,763.6 1315.3,766.9 1319.3,770.2 1323.2,773.6 1327.2,776.9 1331.2,780.3 1335.1,783.7 1339.1,787.1 1343.0,790.6 1347.0,794.0 1350.9,797.5 1354.9,800.9 1358.8,804.4 1362.8,807.9 1366.7,811.4 1370.7,814.9 1374.6,818.4 1378.6,822.0 1382.5,825.5 1386.5,829.0 1390.4,832.6 1394.4,836.1 1398.3,839.7 1402.3,843.3 1406.2,846.8 1410.2,850.4 1414.1,854.0 1418.1,857.6 1422.0,861.2 1426.0,864.7 1429.9,868.3 1433.9,871.9 1437.8,875.5 1441.8,879.1 1445.7,882.7 1449.7,886.3 1453.6,889.9 1457.6,893.5 1461.5,897.0 1465.5,900.6 1469.4,904.2 1473.4,907.8 1477.3,911.4 1481.3,914.9 1485.2,918.5 1489.2,922.0 1493.1,925.6 1497.1,929.1 1501.0,932.7 1505.0,936.2 1508.9,939.7 1512.9,943.2 1516.8,946.7 1520.7,950.2 1524.7,953.7 1528.6,957.2 1532.6,960.7 1536.5,964.1 1540.5,967.6 1544.4,971.0 1548.4,974.4 1552.3,977.8 1556.3,981.2 1560.2,984.6 1564.2,988.0 1568.1,991.4 1572.1,994.7 1576.0,998.0 1580.0,1001.4 1583.9,1004.7 1587.9,1007.9 1591.8,1011.2 1595.8,1014.5 1599.7,1017.7 1603.7,1020.9 1607.6,1024.2 1611.6,1027.4 1615.5,1030.5 1619.5,1033.7 1623.4,1036.8 1627.3,1040.0 1631.3,1043.1 1635.2,1046.2 1639.2,1049.2 1643.1,1052.3 1647.1,1055.3 1651.0,1058.3 1655.0,1061.3 1658.9,1064.3 1662.9,1067.3 1666.8,1070.2 1670.8,1073.1 1674.7,1076.0 1678.6,1078.9 1682.6,1081.8 1686.5,1084.6 1690.5,1087.4 1694.4,1090.2 1698.4,1093.0 1702.3,1095.7 1706.3,1098.5 1710.2,1101.2 1714.1,1103.9 1718.1,1106.6 1722.0,1109.2 1726.0,1111.8 1729.9,1114.4 1733.9,1117.0 1737.8,1119.6 1741.8,1122.1 1745.7,1124.7 1749.6,1127.2 1753.6,1129.6 1757.5,1132.1 1769.5,1130.8 1769.5,1139.8 1753.5,1138.6 1749.5,1136.1 1745.6,1133.6 1741.6,1131.1 1737.7,1128.5 1733.7,1125.9 1729.7,1123.3 1725.8,1120.7 1721.8,1118.1 1717.9,1115.4 1713.9,1112.7 1710.0,1110.0 1706.0,1107.3 1702.0,1104.6 1698.1,1101.8 1694.1,1099.0 1690.2,1096.2 1686.2,1093.4 1682.3,1090.5 1678.3,1087.7 1674.4,1084.8 1670.4,1081.9 1666.5,1078.9 1662.5,1076.0 1658.5,1073.0 1654.6,1070.0 1650.6,1067.0 1646.7,1064.0 1642.7,1061.0 1638.8,1057.9 1634.8,1054.8 1630.9,1051.7 1626.9,1048.6 1623.0,1045.5 1619.0,1042.3 1615.1,1039.2 1611.1,1036.0 1607.2,1032.8 1603.2,1029.6 1599.3,1026.3 1595.3,1023.1 1591.4,1019.8 1587.4,1016.6 1583.4,1013.3 1579.5,1009.9 1575.5,1006.6 1571.6,1003.3 1567.6,999.9 1563.7,996.6 1559.7,993.2 1555.8,989.8 1551.8,986.4 1547.9,983.0 1543.9,979.6 1540.0,976.1 1536.0,972.7 1532.1,969.2 1528.1,965.7 1524.2,962.3 1520.2,958.8 1516.3,955.3 1512.3,951.8 1508.4,948.3 1504.4,944.7 1500.5,941.2 1496.5,937.7 1492.6,934.1 1488.6,930.6 1484.7,927.0 1480.7,923.4 1476.8,919.9 1472.8,916.3 1468.9,912.7 1464.9,909.1 1461.0,905.6 1457.0,902.0 1453.1,898.4 1449.1,894.8 1445.2,891.2 1441.2,887.6 1437.3,884.0 1433.3,880.4 1429.4,876.8 1425.4,873.3 1421.5,869.7 1417.5,866.1 1413.6,862.5 1409.6,858.9 1405.7,855.4 1401.7,851.8 1397.8,848.2 1393.8,844.7 1389.9,841.1 1385.9,837.6 1382.0,834.0 1378.0,830.5 1374.1,827.0 1370.1,823.4 1366.2,819.9 1362.2,816.4 1358.3,813.0 1354.3,809.5 1350.4,806.0 1346.4,802.6 1342.5,799.1 1338.5,795.7 1334.6,792.3 1330.7,788.9 1326.7,785.5 1322.8,782.2 1318.8,778.8 1314.9,775.5 1310.9,772.2 1307.0,768.9 1303.0,765.6 1299.1,762.3 1295.1,759.1 1291.2,755.9 1287.2,752.7 1283.3,749.5 1279.3,746.3 1275.4,743.2 1271.4,740.1 1267.5,737.0 1263.6,733.9 1259.6,730.9 1255.7,727.9 1251.7,724.9 1247.8,721.9 1243.8,719.0 1239.9,716.1 1235.9,713.2 1232.0,710.4 1228.1,707.5 1224.1,704.7 1220.2,702.0 1216.2,699.2 1212.3,696.5 1208.3,693.9 1204.4,691.2 1200.5,688.6 1196.5,686.1 1192.6,683.5 1188.6,681.0 1184.7,678.5 1180.8,676.1 1176.8,673.7 1172.9,671.3 1169.0,669.0 1165.0,666.7 1161.1,664.5 1157.2,662.3 1153.2,660.1 1149.3,657.9 1145.4,655.8 1141.4,653.8 1137.5,651.8 1133.6,649.8 1129.7,647.8 1125.7,645.9 1121.8,644.1 1117.9,642.3 1114.0,640.5 1110.0,638.8 1106.1,637.1 1102.2,635.4 1098.3,633.8 1094.3,632.3 1090.4,630.7 1086.5,629.3 1082.6,627.8 1078.7,626.5 1074.8,625.1 1070.9,623.8 1066.9,622.6 1063.0,621.4 1059.1,620.2 1055.2,619.1 1051.3,618.0 1047.4,617.0 1043.5,616.1 1039.6,615.1 1035.7,614.2 1031.8,613.4 1027.9,612.6 1024.0,611.9 1020.1,611.2 1016.2,610.6 1012.3,610.0 1008.4,609.4 1004.5,608.9 1000.6,608.4 996.7,608.0 992.8,607.7 988.9,607.4 985.0,607.1 981.1,606.9 977.2,606.7 973.3,606.6 969.4,606.5 965.6,606.5 961.7,606.5 957.8,606.6 953.9,606.7 950.0,606.9 946.1,607.1 942.2,607.4 938.3,607.7 934.4,608.0 930.5,608.4 926.6,608.9 922.7,609.4 918.8,610.0 914.9,610.6 911.0,611.2 907.1,611.9 903.2,612.6 899.3,613.4 895.4,614.2 891.5,615.1 887.6,616.1 883.7,617.0 879.8,618.0 875.9,619.1 872.0,620.2 868.1,621.4 864.2,622.6 860.2,623.8 856.3,625.1 852.4,626.5 848.5,627.8 844.6,629.3 840.7,630.7 836.8,632.3 832.8,633.8 828.9,635.4 825.0,637.1 821.1,638.8 817.1,640.5 813.2,642.3 809.3,644.1 805.4,645.9 801.4,647.8 797.5,649.8 793.6,651.8 789.7,653.8 785.7,655.8 781.8,657.9 777.9,660.1 773.9,662.3 770.0,664.5 766.1,666.7 762.1,669.0 758.2,671.3 754.3,673.7 750.3,676.1 746.4,678.5 742.5,681.0 738.5,683.5 734.6,686.1 730.6,688.6 726.7,691.2 722.8,693.9 718.8,696.5 714.9,699.2 710.9,702.0 707.0,704.7 703.0,707.5 699.1,710.4 695.2,713.2 691.2,716.1 687.3,719.0 683.3,721.9 679.4,724.9 675.4,727.9 671.5,730.9 667.5,733.9 663.6,737.0 659.7,740.1 655.7,743.2 651.8,746.3 647.8,749.5 643.9,752.7 639.9,755.9 636.0,759.1 632.0,762.3 628.1,765.6 624.1,768.9 620.2,772.2 616.2,775.5 612.3,778.8 608.3,782.2 604.4,785.5 600.4,788.9 596.5,792.3 592.6,795.7 588.6,799.1 584.7,802.6 580.7,806.0 576.8,809.5 572.8,813.0 568.9,816.4 564.9,819.9 561.0,823.4 557.0,827.0 553.1,830.5 549.1,834.0 545.2,837.6 541.2,841.1 537.3,844.7 533.3,848.2 529.4,851.8 525.4,855.4 521.5,858.9 517.5,862.5 513.6,866.1 509.6,869.7 505.7,873.3 501.7,876.8 497.8,880.4 493.8,884.0 489.9,887.6 485.9,891.2 482.0,894.8 478.0,898.4 474.1,902.0 470.1,905.6 466.2,909.1 462.2,912.7 458.3,916.3 454.3,919.9 450.4,923.4 446.4,927.0 442.5,930.6 438.5,934.1 434.6,937.7 430.6,941.2 426.7,944.7 422.7,948.3 418.8,951.8 414.8,955.3 410.9,958.8 406.9,962.3 403.0,965.7 399.0,969.2 395.1,972.7 391.1,976.1 387.2,979.6 383.2,983.0 379.3,986.4 375.3,989.8 371.4,993.2 367.4,996.6 363.5,999.9 359.5,1003.3 355.6,1006.6 351.6,1009.9 347.7,1013.3 343.7,1016.6 339.7,1019.8 335.8,1023.1 331.8,1026.3 327.9,1029.6 323.9,1032.8 320.0,1036.0 316.0,1039.2 312.1,1042.3 308.1,1045.5 304.2,1048.6 300.2,1051.7 296.3,1054.8 292.3,1057.9 288.4,1061.0 284.4,1064.0 280.5,1067.0 276.5,1070.0 272.6,1073.0 268.6,1076.0 264.6,1078.9 260.7,1081.9 256.7,1084.8 252.8,1087.7 248.8,1090.5 244.9,1093.4 240.9,1096.2 237.0,1099.0 233.0,1101.8 229.1,1104.6 225.1,1107.3 221.1,1110.0 217.2,1112.7 213.2,1115.4 209.3,1118.1 205.3,1120.7 201.4,1123.3 197.4,1125.9 193.4,1128.5 189.5,1131.1 185.5,1133.6 181.6,1136.1 177.6,1138.6 161.6,1139.8" fill="#00ff00"/>
</g>
<path class="ax" stroke-opacity="0.25" d="M175.60 1010.90v12.00M1755.50 1010.90v12.00M175.60 1069.99v12.00M1755.50 1069.99v12.00M175.60 1129.34v12.00M1755.50 1129.34v12.00"/>
<path class="ax" stroke-opacity="0.5" d="M176.80 1135.30h14.20M1754.30 1135.30h-14.20"/>
<g id="ylabels">
<text class="t" text-anchor="end" x="152.00" y="83.50">35</text>
<text class="t" text-anchor="end" x="152.00" y="261.00">30</text>
<text class="t" text-anchor="end" x="152.00" y="440.60">25</text>
<text class="t" text-anchor="end" x="152.00" y="618.60">20</text>
<text class="t" text-anchor="end" x="152.00" y="798.40">15</text>
<text class="t" text-anchor="end" x="152.00" y="975.60">10</text>
<text class="t" text-anchor="end" x="152.00" y="1154.50">5</text>
<text class="t" text-anchor="end" x="152.00" y="1332.30">0</text>
</g>
<g id="xlabels">
<text class="t" text-anchor="middle" x="172.60" y="1384.00">0</text>
<text class="t" text-anchor="middle" x="490.08" y="1384.00">2000</text>
<text class="t" text-anchor="middle" x="805.56" y="1384.00">4000</text>
<text class="t" text-anchor="middle" x="1124.34" y="1384.00">6000</text>
<text class="t" text-anchor="middle" x="1440.72" y="1384.00">8000</text>
<text class="t" text-anchor="middle" x="1755.80" y="1384.00">10000</text>
</g>
<g id="axislabels">
<text class="l" text-anchor="start"><tspan x="754.8" y="1457.6" style="letter-spacing:0.3px">simulation time</tspan><tspan x="1113" y="1449.9" style="font-size:49px;fill:#ababab;stroke:#ababab;stroke-width:0.9px">—</tspan><tspan x="1164.4" y="1457.6">t</tspan></text>
<text class="l" text-anchor="middle" transform="translate(72.3 690.4) rotate(-90)" style="letter-spacing:0.4px">demand</text>
</g>
<g id="legend">
<rect x="1356.9" y="109.3" width="367.2" height="182.5" fill="#ffffff" stroke="#1c1c1c" stroke-width="2.4"/>
<line x1="1368" y1="143.2" x2="1516" y2="143.2" stroke="#0000ff" stroke-width="12.2" stroke-opacity="0.32"/>
<line x1="1370" y1="143.2" x2="1514" y2="143.2" stroke="#0000ff" stroke-width="8.8"/>
<text class="g" x="1526" y="161.5">product 1</text>
<line x1="1368" y1="199.3" x2="1516" y2="199.3" stroke="#ff0000" stroke-width="12.2" stroke-opacity="0.32"/>
<line x1="1370" y1="199.3" x2="1514" y2="199.3" stroke="#ff0000" stroke-width="8.8"/>
<text class="g" x="1526" y="220">product 2</text>
<line x1="1368" y1="257.7" x2="1516" y2="257.7" stroke="#00ff00" stroke-width="12.2" stroke-opacity="0.32"/>
<line x1="1370" y1="257.7" x2="1514" y2="257.7" stroke="#00ff00" stroke-width="8.8"/>
<text class="g" x="1526" y="278.6">product 3</text>
</g>
</svg>
</body></html>
